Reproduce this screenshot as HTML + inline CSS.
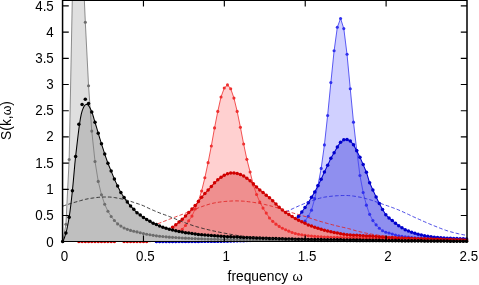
<!DOCTYPE html>
<html><head><meta charset="utf-8"><style>
html,body{margin:0;padding:0;background:#fff;}
body{width:479px;height:285px;overflow:hidden;}
svg{display:block;will-change:transform;}
text{font-family:"Liberation Sans",sans-serif;font-size:13.8px;fill:#000;}
.t text{font-size:13.8px;}
</style></head><body>
<svg width="479" height="285" viewBox="0 0 479 285">
<defs><clipPath id="c"><rect x="62.57" y="0.3" width="404.43" height="241.29999999999998"/></clipPath></defs>
<rect width="479" height="285" fill="#fff"/>
<path clip-path="url(#c)" d="M156.40,241.60 L159.63,241.60 L162.86,241.60 L166.09,241.59 L169.32,241.59 L172.55,241.58 L175.79,241.58 L179.02,241.57 L182.25,241.56 L185.48,241.55 L188.71,241.54 L191.94,241.53 L195.17,241.51 L198.40,241.50 L201.63,241.48 L204.86,241.46 L208.10,241.45 L211.33,241.43 L214.56,241.41 L217.79,241.38 L221.02,241.36 L224.25,241.34 L227.48,241.31 L230.71,241.26 L233.94,241.19 L237.17,241.11 L240.41,241.00 L243.64,240.89 L246.87,240.75 L250.10,240.59 L253.33,240.42 L256.56,240.23 L259.79,240.02 L263.02,239.79 L266.25,239.54 L269.48,239.27 L272.72,238.98 L275.95,238.55 L279.18,237.89 L282.41,237.01 L285.64,235.97 L288.87,234.79 L292.10,233.21 L295.33,231.06 L298.56,228.50 L301.79,225.22 L305.03,221.16 L308.26,216.29 L311.49,210.16 L314.72,198.63 L317.95,185.53 L321.18,168.40 L324.41,144.92 L327.64,115.47 L330.87,82.62 L334.10,50.81 L337.33,27.28 L340.57,18.48 L343.80,28.59 L347.03,54.32 L350.26,88.70 L353.49,122.13 L356.72,150.21 L359.95,175.47 L363.18,192.50 L366.41,205.13 L369.65,214.36 L372.88,220.58 L376.11,224.83 L379.34,228.25 L382.57,230.82 L385.80,232.27 L389.03,233.06 L392.26,234.00 L395.49,235.00 L398.72,235.81 L401.96,236.34 L405.19,236.75 L408.42,237.16 L411.65,237.50 L414.88,237.80 L418.11,238.06 L421.34,238.29 L424.57,238.48 L427.80,238.65 L431.03,238.79 L434.27,238.93 L437.50,239.06 L440.73,239.18 L443.96,239.30 L447.19,239.42 L450.42,239.53 L453.65,239.64 L456.88,239.75 L460.11,239.85 L463.34,239.94 L466.57,240.03 L466.57,241.60 L156.40,241.60 Z" fill="#d0d0ff" stroke="none"/>
<path clip-path="url(#c)" d="M156.40,241.60 L159.63,241.60 L162.86,241.60 L166.09,241.59 L169.32,241.58 L172.55,241.57 L175.79,241.56 L179.02,241.55 L182.25,241.53 L185.48,241.51 L188.71,241.49 L191.94,241.46 L195.17,241.44 L198.40,241.41 L201.63,241.37 L204.86,241.34 L208.10,241.30 L211.33,241.26 L214.56,241.22 L217.79,241.17 L221.02,241.13 L224.25,241.08 L227.48,240.98 L230.71,240.81 L233.94,240.57 L237.17,240.26 L240.41,239.89 L243.64,239.48 L246.87,239.01 L250.10,238.51 L253.33,237.97 L256.56,237.41 L259.79,236.70 L263.02,235.75 L266.25,234.64 L269.48,233.43 L272.72,232.17 L275.95,230.84 L279.18,229.38 L282.41,227.79 L285.64,226.10 L288.87,224.31 L292.10,222.45 L295.33,220.12 L298.56,216.29 L301.79,211.99 L305.03,207.44 L308.26,202.72 L311.49,197.32 L314.72,191.92 L317.95,185.79 L321.18,179.24 L324.41,171.91 L327.64,165.36 L330.87,158.28 L334.10,152.73 L337.33,146.91 L340.57,142.30 L343.80,139.84 L347.03,139.42 L350.26,141.10 L353.49,144.66 L356.72,150.69 L359.95,157.29 L363.18,164.62 L366.41,172.17 L369.65,182.82 L372.88,190.02 L376.11,196.91 L379.34,203.56 L382.57,209.41 L385.80,214.72 L389.03,218.02 L392.26,220.48 L395.49,223.36 L398.72,225.78 L401.96,227.87 L405.19,229.65 L408.42,231.02 L411.65,232.33 L414.88,233.37 L418.11,234.21 L421.34,234.95 L424.57,235.68 L427.80,236.31 L431.03,236.73 L434.27,237.15 L437.50,237.57 L440.73,237.81 L443.96,237.99 L447.19,238.15 L450.42,238.30 L453.65,238.45 L456.88,238.60 L460.11,238.74 L463.34,238.86 L466.57,238.98 L466.57,241.60 L156.40,241.60 Z" fill="#8f8fef" stroke="none"/>
<path clip-path="url(#c)" d="M156.40,241.60 L159.63,241.60 L162.86,241.60 L166.09,241.59 L169.32,241.59 L172.55,241.58 L175.79,241.58 L179.02,241.57 L182.25,241.56 L185.48,241.55 L188.71,241.54 L191.94,241.53 L195.17,241.51 L198.40,241.50 L201.63,241.48 L204.86,241.46 L208.10,241.45 L211.33,241.43 L214.56,241.41 L217.79,241.38 L221.02,241.36 L224.25,241.34 L227.48,241.31 L230.71,241.26 L233.94,241.19 L237.17,241.11 L240.41,241.00 L243.64,240.89 L246.87,240.75 L250.10,240.59 L253.33,240.42 L256.56,240.23 L259.79,240.02 L263.02,239.79 L266.25,239.54 L269.48,239.27 L272.72,238.98 L275.95,238.55 L279.18,237.89 L282.41,237.01 L285.64,235.97 L288.87,234.79 L292.10,233.21 L295.33,231.06 L298.56,228.50 L301.79,225.22 L305.03,221.16 L308.26,216.29 L311.49,210.16 L314.72,198.63 L317.95,185.53 L321.18,168.40 L324.41,144.92 L327.64,115.47 L330.87,82.62 L334.10,50.81 L337.33,27.28 L340.57,18.48 L343.80,28.59 L347.03,54.32 L350.26,88.70 L353.49,122.13 L356.72,150.21 L359.95,175.47 L363.18,192.50 L366.41,205.13 L369.65,214.36 L372.88,220.58 L376.11,224.83 L379.34,228.25 L382.57,230.82 L385.80,232.27 L389.03,233.06 L392.26,234.00 L395.49,235.00 L398.72,235.81 L401.96,236.34 L405.19,236.75 L408.42,237.16 L411.65,237.50 L414.88,237.80 L418.11,238.06 L421.34,238.29 L424.57,238.48 L427.80,238.65 L431.03,238.79 L434.27,238.93 L437.50,239.06 L440.73,239.18 L443.96,239.30 L447.19,239.42 L450.42,239.53 L453.65,239.64 L456.88,239.75 L460.11,239.85 L463.34,239.94 L466.57,240.03" fill="none" stroke="#4848f0" stroke-width="0.9" stroke-linejoin="round"/>
<g fill="#3030ee"><circle cx="156.40" cy="241.60" r="1.55"/><circle cx="159.63" cy="241.60" r="1.55"/><circle cx="162.86" cy="241.60" r="1.55"/><circle cx="166.09" cy="241.59" r="1.55"/><circle cx="169.32" cy="241.59" r="1.55"/><circle cx="172.55" cy="241.58" r="1.55"/><circle cx="175.79" cy="241.58" r="1.55"/><circle cx="179.02" cy="241.57" r="1.55"/><circle cx="182.25" cy="241.56" r="1.55"/><circle cx="185.48" cy="241.55" r="1.55"/><circle cx="188.71" cy="241.54" r="1.55"/><circle cx="191.94" cy="241.53" r="1.55"/><circle cx="195.17" cy="241.51" r="1.55"/><circle cx="198.40" cy="241.50" r="1.55"/><circle cx="201.63" cy="241.48" r="1.55"/><circle cx="204.86" cy="241.46" r="1.55"/><circle cx="208.10" cy="241.45" r="1.55"/><circle cx="211.33" cy="241.43" r="1.55"/><circle cx="214.56" cy="241.41" r="1.55"/><circle cx="217.79" cy="241.38" r="1.55"/><circle cx="221.02" cy="241.36" r="1.55"/><circle cx="224.25" cy="241.34" r="1.55"/><circle cx="227.48" cy="241.31" r="1.55"/><circle cx="230.71" cy="241.26" r="1.55"/><circle cx="233.94" cy="241.19" r="1.55"/><circle cx="237.17" cy="241.11" r="1.55"/><circle cx="240.41" cy="241.00" r="1.55"/><circle cx="243.64" cy="240.89" r="1.55"/><circle cx="246.87" cy="240.75" r="1.55"/><circle cx="250.10" cy="240.59" r="1.55"/><circle cx="253.33" cy="240.42" r="1.55"/><circle cx="256.56" cy="240.23" r="1.55"/><circle cx="259.79" cy="240.02" r="1.55"/><circle cx="263.02" cy="239.79" r="1.55"/><circle cx="266.25" cy="239.54" r="1.55"/><circle cx="269.48" cy="239.27" r="1.55"/><circle cx="272.72" cy="238.98" r="1.55"/><circle cx="275.95" cy="238.55" r="1.55"/><circle cx="279.18" cy="237.89" r="1.55"/><circle cx="282.41" cy="237.01" r="1.55"/><circle cx="285.64" cy="235.97" r="1.55"/><circle cx="288.87" cy="234.79" r="1.55"/><circle cx="292.10" cy="233.21" r="1.55"/><circle cx="295.33" cy="231.06" r="1.55"/><circle cx="298.56" cy="228.50" r="1.55"/><circle cx="301.79" cy="225.22" r="1.55"/><circle cx="305.03" cy="221.16" r="1.55"/><circle cx="308.26" cy="216.29" r="1.55"/><circle cx="311.49" cy="210.16" r="1.55"/><circle cx="314.72" cy="198.63" r="1.55"/><circle cx="317.95" cy="185.53" r="1.55"/><circle cx="321.18" cy="168.40" r="1.55"/><circle cx="324.41" cy="144.92" r="1.55"/><circle cx="327.64" cy="115.47" r="1.55"/><circle cx="330.87" cy="82.62" r="1.55"/><circle cx="334.10" cy="50.81" r="1.55"/><circle cx="337.33" cy="27.28" r="1.55"/><circle cx="340.57" cy="18.48" r="1.55"/><circle cx="343.80" cy="28.59" r="1.55"/><circle cx="347.03" cy="54.32" r="1.55"/><circle cx="350.26" cy="88.70" r="1.55"/><circle cx="353.49" cy="122.13" r="1.55"/><circle cx="356.72" cy="150.21" r="1.55"/><circle cx="359.95" cy="175.47" r="1.55"/><circle cx="363.18" cy="192.50" r="1.55"/><circle cx="366.41" cy="205.13" r="1.55"/><circle cx="369.65" cy="214.36" r="1.55"/><circle cx="372.88" cy="220.58" r="1.55"/><circle cx="376.11" cy="224.83" r="1.55"/><circle cx="379.34" cy="228.25" r="1.55"/><circle cx="382.57" cy="230.82" r="1.55"/><circle cx="385.80" cy="232.27" r="1.55"/><circle cx="389.03" cy="233.06" r="1.55"/><circle cx="392.26" cy="234.00" r="1.55"/><circle cx="395.49" cy="235.00" r="1.55"/><circle cx="398.72" cy="235.81" r="1.55"/><circle cx="401.96" cy="236.34" r="1.55"/><circle cx="405.19" cy="236.75" r="1.55"/><circle cx="408.42" cy="237.16" r="1.55"/><circle cx="411.65" cy="237.50" r="1.55"/><circle cx="414.88" cy="237.80" r="1.55"/><circle cx="418.11" cy="238.06" r="1.55"/><circle cx="421.34" cy="238.29" r="1.55"/><circle cx="424.57" cy="238.48" r="1.55"/><circle cx="427.80" cy="238.65" r="1.55"/><circle cx="431.03" cy="238.79" r="1.55"/><circle cx="434.27" cy="238.93" r="1.55"/><circle cx="437.50" cy="239.06" r="1.55"/><circle cx="440.73" cy="239.18" r="1.55"/><circle cx="443.96" cy="239.30" r="1.55"/><circle cx="447.19" cy="239.42" r="1.55"/><circle cx="450.42" cy="239.53" r="1.55"/><circle cx="453.65" cy="239.64" r="1.55"/><circle cx="456.88" cy="239.75" r="1.55"/><circle cx="460.11" cy="239.85" r="1.55"/><circle cx="463.34" cy="239.94" r="1.55"/><circle cx="466.57" cy="240.03" r="1.55"/></g>
<path clip-path="url(#c)" d="M156.40,241.60 L159.63,241.60 L162.86,241.60 L166.09,241.59 L169.32,241.58 L172.55,241.57 L175.79,241.56 L179.02,241.55 L182.25,241.53 L185.48,241.51 L188.71,241.49 L191.94,241.46 L195.17,241.44 L198.40,241.41 L201.63,241.37 L204.86,241.34 L208.10,241.30 L211.33,241.26 L214.56,241.22 L217.79,241.17 L221.02,241.13 L224.25,241.08 L227.48,240.98 L230.71,240.81 L233.94,240.57 L237.17,240.26 L240.41,239.89 L243.64,239.48 L246.87,239.01 L250.10,238.51 L253.33,237.97 L256.56,237.41 L259.79,236.70 L263.02,235.75 L266.25,234.64 L269.48,233.43 L272.72,232.17 L275.95,230.84 L279.18,229.38 L282.41,227.79 L285.64,226.10 L288.87,224.31 L292.10,222.45 L295.33,220.12 L298.56,216.29 L301.79,211.99 L305.03,207.44 L308.26,202.72 L311.49,197.32 L314.72,191.92 L317.95,185.79 L321.18,179.24 L324.41,171.91 L327.64,165.36 L330.87,158.28 L334.10,152.73 L337.33,146.91 L340.57,142.30 L343.80,139.84 L347.03,139.42 L350.26,141.10 L353.49,144.66 L356.72,150.69 L359.95,157.29 L363.18,164.62 L366.41,172.17 L369.65,182.82 L372.88,190.02 L376.11,196.91 L379.34,203.56 L382.57,209.41 L385.80,214.72 L389.03,218.02 L392.26,220.48 L395.49,223.36 L398.72,225.78 L401.96,227.87 L405.19,229.65 L408.42,231.02 L411.65,232.33 L414.88,233.37 L418.11,234.21 L421.34,234.95 L424.57,235.68 L427.80,236.31 L431.03,236.73 L434.27,237.15 L437.50,237.57 L440.73,237.81 L443.96,237.99 L447.19,238.15 L450.42,238.30 L453.65,238.45 L456.88,238.60 L460.11,238.74 L463.34,238.86 L466.57,238.98" fill="none" stroke="#0000cc" stroke-width="1.05" stroke-linejoin="round"/>
<g fill="#0000cc"><circle cx="156.40" cy="241.60" r="1.75"/><circle cx="159.63" cy="241.60" r="1.75"/><circle cx="162.86" cy="241.60" r="1.75"/><circle cx="166.09" cy="241.59" r="1.75"/><circle cx="169.32" cy="241.58" r="1.75"/><circle cx="172.55" cy="241.57" r="1.75"/><circle cx="175.79" cy="241.56" r="1.75"/><circle cx="179.02" cy="241.55" r="1.75"/><circle cx="182.25" cy="241.53" r="1.75"/><circle cx="185.48" cy="241.51" r="1.75"/><circle cx="188.71" cy="241.49" r="1.75"/><circle cx="191.94" cy="241.46" r="1.75"/><circle cx="195.17" cy="241.44" r="1.75"/><circle cx="198.40" cy="241.41" r="1.75"/><circle cx="201.63" cy="241.37" r="1.75"/><circle cx="204.86" cy="241.34" r="1.75"/><circle cx="208.10" cy="241.30" r="1.75"/><circle cx="211.33" cy="241.26" r="1.75"/><circle cx="214.56" cy="241.22" r="1.75"/><circle cx="217.79" cy="241.17" r="1.75"/><circle cx="221.02" cy="241.13" r="1.75"/><circle cx="224.25" cy="241.08" r="1.75"/><circle cx="227.48" cy="240.98" r="1.75"/><circle cx="230.71" cy="240.81" r="1.75"/><circle cx="233.94" cy="240.57" r="1.75"/><circle cx="237.17" cy="240.26" r="1.75"/><circle cx="240.41" cy="239.89" r="1.75"/><circle cx="243.64" cy="239.48" r="1.75"/><circle cx="246.87" cy="239.01" r="1.75"/><circle cx="250.10" cy="238.51" r="1.75"/><circle cx="253.33" cy="237.97" r="1.75"/><circle cx="256.56" cy="237.41" r="1.75"/><circle cx="259.79" cy="236.70" r="1.75"/><circle cx="263.02" cy="235.75" r="1.75"/><circle cx="266.25" cy="234.64" r="1.75"/><circle cx="269.48" cy="233.43" r="1.75"/><circle cx="272.72" cy="232.17" r="1.75"/><circle cx="275.95" cy="230.84" r="1.75"/><circle cx="279.18" cy="229.38" r="1.75"/><circle cx="282.41" cy="227.79" r="1.75"/><circle cx="285.64" cy="226.10" r="1.75"/><circle cx="288.87" cy="224.31" r="1.75"/><circle cx="292.10" cy="222.45" r="1.75"/><circle cx="295.33" cy="220.12" r="1.75"/><circle cx="298.56" cy="216.29" r="1.75"/><circle cx="301.79" cy="211.99" r="1.75"/><circle cx="305.03" cy="207.44" r="1.75"/><circle cx="308.26" cy="202.72" r="1.75"/><circle cx="311.49" cy="197.32" r="1.75"/><circle cx="314.72" cy="191.92" r="1.75"/><circle cx="317.95" cy="185.79" r="1.75"/><circle cx="321.18" cy="179.24" r="1.75"/><circle cx="324.41" cy="171.91" r="1.75"/><circle cx="327.64" cy="165.36" r="1.75"/><circle cx="330.87" cy="158.28" r="1.75"/><circle cx="334.10" cy="152.73" r="1.75"/><circle cx="337.33" cy="146.91" r="1.75"/><circle cx="340.57" cy="142.30" r="1.75"/><circle cx="343.80" cy="139.84" r="1.75"/><circle cx="347.03" cy="139.42" r="1.75"/><circle cx="350.26" cy="141.10" r="1.75"/><circle cx="353.49" cy="144.66" r="1.75"/><circle cx="356.72" cy="150.69" r="1.75"/><circle cx="359.95" cy="157.29" r="1.75"/><circle cx="363.18" cy="164.62" r="1.75"/><circle cx="366.41" cy="172.17" r="1.75"/><circle cx="369.65" cy="182.82" r="1.75"/><circle cx="372.88" cy="190.02" r="1.75"/><circle cx="376.11" cy="196.91" r="1.75"/><circle cx="379.34" cy="203.56" r="1.75"/><circle cx="382.57" cy="209.41" r="1.75"/><circle cx="385.80" cy="214.72" r="1.75"/><circle cx="389.03" cy="218.02" r="1.75"/><circle cx="392.26" cy="220.48" r="1.75"/><circle cx="395.49" cy="223.36" r="1.75"/><circle cx="398.72" cy="225.78" r="1.75"/><circle cx="401.96" cy="227.87" r="1.75"/><circle cx="405.19" cy="229.65" r="1.75"/><circle cx="408.42" cy="231.02" r="1.75"/><circle cx="411.65" cy="232.33" r="1.75"/><circle cx="414.88" cy="233.37" r="1.75"/><circle cx="418.11" cy="234.21" r="1.75"/><circle cx="421.34" cy="234.95" r="1.75"/><circle cx="424.57" cy="235.68" r="1.75"/><circle cx="427.80" cy="236.31" r="1.75"/><circle cx="431.03" cy="236.73" r="1.75"/><circle cx="434.27" cy="237.15" r="1.75"/><circle cx="437.50" cy="237.57" r="1.75"/><circle cx="440.73" cy="237.81" r="1.75"/><circle cx="443.96" cy="237.99" r="1.75"/><circle cx="447.19" cy="238.15" r="1.75"/><circle cx="450.42" cy="238.30" r="1.75"/><circle cx="453.65" cy="238.45" r="1.75"/><circle cx="456.88" cy="238.60" r="1.75"/><circle cx="460.11" cy="238.74" r="1.75"/><circle cx="463.34" cy="238.86" r="1.75"/><circle cx="466.57" cy="238.98" r="1.75"/></g>
<path clip-path="url(#c)" d="M191.94,240.03 L193.56,239.90 L195.17,239.76 L196.79,239.61 L198.40,239.44 L200.02,239.25 L201.63,239.06 L203.25,238.85 L204.86,238.63 L206.48,238.40 L208.10,238.16 L209.71,237.91 L211.33,237.65 L212.94,237.38 L214.56,237.11 L216.17,236.82 L217.79,236.53 L219.40,236.23 L221.02,235.93 L222.63,235.62 L224.25,235.31 L225.87,234.99 L227.48,234.64 L229.10,234.28 L230.71,233.90 L232.33,233.50 L233.94,233.09 L235.56,232.66 L237.17,232.21 L238.79,231.75 L240.41,231.28 L242.02,230.79 L243.64,230.29 L245.25,229.77 L246.87,229.25 L248.48,228.71 L250.10,228.16 L251.71,227.60 L253.33,227.04 L254.94,226.46 L256.56,225.88 L258.18,225.27 L259.79,224.62 L261.41,223.94 L263.02,223.23 L264.64,222.48 L266.25,221.71 L267.87,220.92 L269.48,220.12 L271.10,219.29 L272.72,218.46 L274.33,217.63 L275.95,216.79 L277.56,215.95 L279.18,215.12 L280.79,214.29 L282.41,213.48 L284.02,212.68 L285.64,211.91 L287.25,211.16 L288.87,210.43 L290.49,209.69 L292.10,208.96 L293.72,208.22 L295.33,207.49 L296.95,206.76 L298.56,206.04 L300.18,205.33 L301.79,204.64 L303.41,203.97 L305.03,203.32 L306.64,202.69 L308.26,202.09 L309.87,201.51 L311.49,200.95 L313.10,200.39 L314.72,199.83 L316.33,199.28 L317.95,198.76 L319.56,198.28 L321.18,197.84 L322.80,197.47 L324.41,197.16 L326.03,196.92 L327.64,196.70 L329.26,196.49 L330.87,196.29 L332.49,196.12 L334.10,195.96 L335.72,195.83 L337.34,195.72 L338.95,195.63 L340.57,195.58 L342.18,195.53 L343.80,195.50 L345.41,195.49 L347.03,195.52 L348.64,195.59 L350.26,195.70 L351.87,195.87 L353.49,196.08 L355.11,196.33 L356.72,196.60 L358.34,196.89 L359.95,197.18 L361.57,197.51 L363.18,197.88 L364.80,198.28 L366.41,198.71 L368.03,199.16 L369.65,199.64 L371.26,200.16 L372.88,200.71 L374.49,201.29 L376.11,201.87 L377.72,202.44 L379.34,203.01 L380.95,203.56 L382.57,204.12 L384.18,204.67 L385.80,205.23 L387.42,205.79 L389.03,206.35 L390.65,206.93 L392.26,207.52 L393.88,208.12 L395.49,208.74 L397.11,209.37 L398.72,210.03 L400.34,210.72 L401.96,211.43 L403.57,212.16 L405.19,212.91 L406.80,213.66 L408.42,214.42 L410.03,215.19 L411.65,215.95 L413.26,216.71 L414.88,217.45 L416.49,218.18 L418.11,218.90 L419.73,219.62 L421.34,220.34 L422.96,221.06 L424.57,221.78 L426.19,222.49 L427.80,223.19 L429.42,223.88 L431.03,224.57 L432.65,225.23 L434.27,225.89 L435.88,226.52 L437.50,227.16 L439.11,227.80 L440.73,228.43 L442.34,229.05 L443.96,229.65 L445.57,230.23 L447.19,230.77 L448.80,231.27 L450.42,231.73 L452.04,232.17 L453.65,232.60 L455.27,233.01 L456.88,233.40 L458.50,233.78 L460.11,234.13 L461.73,234.46 L463.34,234.77 L464.96,235.06 L466.58,235.31" fill="none" stroke="#2a2ae0" stroke-width="0.85" stroke-dasharray="3.7,2.1"/>
<path clip-path="url(#c)" d="M78.86,241.60 L82.09,241.60 L85.32,241.60 L88.55,241.60 L91.78,241.59 L95.01,241.59 L98.24,241.58 L101.47,241.58 L104.70,241.57 L107.93,241.56 L111.17,241.55 L114.40,241.54 L117.63,241.53 L120.86,241.52 L124.09,241.51 L127.32,241.50 L130.55,241.47 L133.78,241.41 L137.01,241.33 L140.24,241.22 L143.48,241.09 L146.71,240.93 L149.94,240.75 L153.17,240.55 L156.40,240.21 L159.63,239.65 L162.86,238.98 L166.09,238.16 L169.32,237.12 L172.55,235.84 L175.79,234.00 L179.02,231.91 L182.25,229.18 L185.48,225.57 L188.71,220.85 L191.94,216.08 L195.17,209.01 L198.40,200.99 L201.63,190.93 L204.86,177.78 L208.10,162.63 L211.33,145.97 L214.56,127.89 L217.79,111.39 L221.02,96.98 L224.25,88.07 L227.48,84.92 L230.71,88.70 L233.94,98.08 L237.17,111.39 L240.41,127.37 L243.64,144.03 L246.87,159.33 L250.10,171.96 L253.33,185.01 L256.56,194.44 L259.79,202.04 L263.02,208.12 L266.25,213.09 L269.48,218.02 L272.72,221.37 L275.95,224.15 L279.18,226.40 L282.41,228.19 L285.64,229.81 L288.87,231.17 L292.10,232.43 L295.33,233.48 L298.56,234.32 L301.79,234.84 L305.03,235.36 L308.26,235.78 L311.49,236.10 L314.72,236.41 L317.95,236.62 L321.18,236.78 L324.41,236.93 L327.64,237.06 L330.87,237.18 L334.10,237.30 L337.33,237.41 L340.57,237.51 L343.80,237.60 L347.03,237.69 L350.26,237.77 L353.49,237.85 L356.72,237.94 L359.95,238.04 L363.18,238.15 L366.41,238.27 L369.65,238.40 L372.88,238.53 L376.11,238.66 L379.34,238.78 L382.57,238.89 L385.80,238.98 L389.03,239.06 L392.26,239.13 L395.49,239.20 L398.72,239.27 L401.96,239.33 L405.19,239.39 L408.42,239.44 L411.65,239.50 L414.88,239.55 L418.11,239.61 L421.34,239.66 L424.57,239.72 L427.80,239.77 L431.03,239.83 L434.27,239.88 L437.50,239.93 L440.73,239.98 L443.96,240.03 L447.19,240.08 L450.42,240.12 L453.65,240.17 L456.88,240.21 L460.11,240.26 L463.34,240.30 L466.57,240.34 L466.57,241.60 L78.86,241.60 Z" fill="#ffd0d0" stroke="none"/>
<path clip-path="url(#c)" d="M172.55,227.19 L175.79,224.83 L179.02,222.11 L182.25,219.28 L185.48,216.08 L188.71,212.62 L191.94,209.01 L195.17,205.50 L198.40,201.57 L201.63,197.22 L204.86,193.39 L208.10,190.09 L211.33,186.42 L214.56,182.81 L217.79,179.82 L221.02,177.31 L224.25,175.21 L227.48,173.69 L230.71,173.01 L233.94,173.01 L237.17,173.48 L240.41,174.53 L243.64,176.00 L246.87,178.30 L250.10,180.82 L253.33,183.80 L256.56,186.89 L259.79,189.88 L263.02,192.40 L266.25,195.23 L269.48,197.69 L272.72,200.73 L275.95,204.00 L279.18,207.28 L282.41,210.00 L285.64,212.41 L288.87,214.61 L292.10,216.61 L295.33,218.49 L298.56,220.22 L301.79,221.85 L305.03,223.36 L308.26,224.88 L311.49,226.09 L314.72,227.24 L317.95,228.24 L321.18,229.29 L324.41,230.28 L327.64,230.96 L330.87,231.80 L334.10,232.48 L337.33,233.11 L340.57,233.64 L343.80,234.32 L347.03,234.79 L350.26,235.01 L353.49,235.16 L356.72,235.29 L359.95,235.45 L363.18,235.66 L366.41,235.88 L369.65,236.10 L372.88,236.33 L376.11,236.57 L379.34,236.81 L382.57,237.04 L385.80,237.25 L389.03,237.44 L392.26,237.62 L395.49,237.78 L398.72,237.93 L401.96,238.07 L405.19,238.19 L408.42,238.31 L411.65,238.43 L414.88,238.54 L418.11,238.64 L421.34,238.74 L424.57,238.84 L427.80,238.94 L431.03,239.04 L434.27,239.14 L437.50,239.23 L440.73,239.33 L443.96,239.42 L447.19,239.52 L450.42,239.61 L453.65,239.69 L456.88,239.78 L460.11,239.87 L463.34,239.95 L466.57,240.03 L466.57,241.60 L172.55,241.60 Z" fill="#ef8f8f" stroke="none"/>
<path clip-path="url(#c)" d="M78.86,241.60 L82.09,241.60 L85.32,241.60 L88.55,241.60 L91.78,241.59 L95.01,241.59 L98.24,241.58 L101.47,241.58 L104.70,241.57 L107.93,241.56 L111.17,241.55 L114.40,241.54 L117.63,241.53 L120.86,241.52 L124.09,241.51 L127.32,241.50 L130.55,241.47 L133.78,241.41 L137.01,241.33 L140.24,241.22 L143.48,241.09 L146.71,240.93 L149.94,240.75 L153.17,240.55 L156.40,240.21 L159.63,239.65 L162.86,238.98 L166.09,238.16 L169.32,237.12 L172.55,235.84 L175.79,234.00 L179.02,231.91 L182.25,229.18 L185.48,225.57 L188.71,220.85 L191.94,216.08 L195.17,209.01 L198.40,200.99 L201.63,190.93 L204.86,177.78 L208.10,162.63 L211.33,145.97 L214.56,127.89 L217.79,111.39 L221.02,96.98 L224.25,88.07 L227.48,84.92 L230.71,88.70 L233.94,98.08 L237.17,111.39 L240.41,127.37 L243.64,144.03 L246.87,159.33 L250.10,171.96 L253.33,185.01 L256.56,194.44 L259.79,202.04 L263.02,208.12 L266.25,213.09 L269.48,218.02 L272.72,221.37 L275.95,224.15 L279.18,226.40 L282.41,228.19 L285.64,229.81 L288.87,231.17 L292.10,232.43 L295.33,233.48 L298.56,234.32 L301.79,234.84 L305.03,235.36 L308.26,235.78 L311.49,236.10 L314.72,236.41 L317.95,236.62 L321.18,236.78 L324.41,236.93 L327.64,237.06 L330.87,237.18 L334.10,237.30 L337.33,237.41 L340.57,237.51 L343.80,237.60 L347.03,237.69 L350.26,237.77 L353.49,237.85 L356.72,237.94 L359.95,238.04 L363.18,238.15 L366.41,238.27 L369.65,238.40 L372.88,238.53 L376.11,238.66 L379.34,238.78 L382.57,238.89 L385.80,238.98 L389.03,239.06 L392.26,239.13 L395.49,239.20 L398.72,239.27 L401.96,239.33 L405.19,239.39 L408.42,239.44 L411.65,239.50 L414.88,239.55 L418.11,239.61 L421.34,239.66 L424.57,239.72 L427.80,239.77 L431.03,239.83 L434.27,239.88 L437.50,239.93 L440.73,239.98 L443.96,240.03 L447.19,240.08 L450.42,240.12 L453.65,240.17 L456.88,240.21 L460.11,240.26 L463.34,240.30 L466.57,240.34" fill="none" stroke="#f04040" stroke-width="0.9" stroke-linejoin="round"/>
<g fill="#ee3030"><circle cx="149.94" cy="240.75" r="1.55"/><circle cx="153.17" cy="240.55" r="1.55"/><circle cx="156.40" cy="240.21" r="1.55"/><circle cx="159.63" cy="239.65" r="1.55"/><circle cx="162.86" cy="238.98" r="1.55"/><circle cx="166.09" cy="238.16" r="1.55"/><circle cx="169.32" cy="237.12" r="1.55"/><circle cx="172.55" cy="235.84" r="1.55"/><circle cx="175.79" cy="234.00" r="1.55"/><circle cx="179.02" cy="231.91" r="1.55"/><circle cx="182.25" cy="229.18" r="1.55"/><circle cx="185.48" cy="225.57" r="1.55"/><circle cx="188.71" cy="220.85" r="1.55"/><circle cx="191.94" cy="216.08" r="1.55"/><circle cx="195.17" cy="209.01" r="1.55"/><circle cx="198.40" cy="200.99" r="1.55"/><circle cx="201.63" cy="190.93" r="1.55"/><circle cx="204.86" cy="177.78" r="1.55"/><circle cx="208.10" cy="162.63" r="1.55"/><circle cx="211.33" cy="145.97" r="1.55"/><circle cx="214.56" cy="127.89" r="1.55"/><circle cx="217.79" cy="111.39" r="1.55"/><circle cx="221.02" cy="96.98" r="1.55"/><circle cx="224.25" cy="88.07" r="1.55"/><circle cx="227.48" cy="84.92" r="1.55"/><circle cx="230.71" cy="88.70" r="1.55"/><circle cx="233.94" cy="98.08" r="1.55"/><circle cx="237.17" cy="111.39" r="1.55"/><circle cx="240.41" cy="127.37" r="1.55"/><circle cx="243.64" cy="144.03" r="1.55"/><circle cx="246.87" cy="159.33" r="1.55"/><circle cx="250.10" cy="171.96" r="1.55"/><circle cx="253.33" cy="185.01" r="1.55"/><circle cx="256.56" cy="194.44" r="1.55"/><circle cx="259.79" cy="202.04" r="1.55"/><circle cx="263.02" cy="208.12" r="1.55"/><circle cx="266.25" cy="213.09" r="1.55"/><circle cx="269.48" cy="218.02" r="1.55"/><circle cx="272.72" cy="221.37" r="1.55"/><circle cx="275.95" cy="224.15" r="1.55"/><circle cx="279.18" cy="226.40" r="1.55"/><circle cx="282.41" cy="228.19" r="1.55"/><circle cx="285.64" cy="229.81" r="1.55"/><circle cx="288.87" cy="231.17" r="1.55"/><circle cx="292.10" cy="232.43" r="1.55"/><circle cx="295.33" cy="233.48" r="1.55"/><circle cx="298.56" cy="234.32" r="1.55"/><circle cx="301.79" cy="234.84" r="1.55"/><circle cx="305.03" cy="235.36" r="1.55"/><circle cx="308.26" cy="235.78" r="1.55"/><circle cx="311.49" cy="236.10" r="1.55"/><circle cx="314.72" cy="236.41" r="1.55"/><circle cx="317.95" cy="236.62" r="1.55"/><circle cx="321.18" cy="236.78" r="1.55"/><circle cx="324.41" cy="236.93" r="1.55"/><circle cx="327.64" cy="237.06" r="1.55"/><circle cx="330.87" cy="237.18" r="1.55"/><circle cx="334.10" cy="237.30" r="1.55"/><circle cx="337.33" cy="237.41" r="1.55"/><circle cx="340.57" cy="237.51" r="1.55"/><circle cx="343.80" cy="237.60" r="1.55"/><circle cx="347.03" cy="237.69" r="1.55"/><circle cx="350.26" cy="237.77" r="1.55"/><circle cx="353.49" cy="237.85" r="1.55"/><circle cx="356.72" cy="237.94" r="1.55"/><circle cx="359.95" cy="238.04" r="1.55"/><circle cx="363.18" cy="238.15" r="1.55"/><circle cx="366.41" cy="238.27" r="1.55"/><circle cx="369.65" cy="238.40" r="1.55"/><circle cx="372.88" cy="238.53" r="1.55"/><circle cx="376.11" cy="238.66" r="1.55"/><circle cx="379.34" cy="238.78" r="1.55"/><circle cx="382.57" cy="238.89" r="1.55"/><circle cx="385.80" cy="238.98" r="1.55"/><circle cx="389.03" cy="239.06" r="1.55"/><circle cx="392.26" cy="239.13" r="1.55"/><circle cx="395.49" cy="239.20" r="1.55"/><circle cx="398.72" cy="239.27" r="1.55"/><circle cx="401.96" cy="239.33" r="1.55"/><circle cx="405.19" cy="239.39" r="1.55"/><circle cx="408.42" cy="239.44" r="1.55"/><circle cx="411.65" cy="239.50" r="1.55"/><circle cx="414.88" cy="239.55" r="1.55"/><circle cx="418.11" cy="239.61" r="1.55"/><circle cx="421.34" cy="239.66" r="1.55"/><circle cx="424.57" cy="239.72" r="1.55"/><circle cx="427.80" cy="239.77" r="1.55"/><circle cx="431.03" cy="239.83" r="1.55"/><circle cx="434.27" cy="239.88" r="1.55"/><circle cx="437.50" cy="239.93" r="1.55"/><circle cx="440.73" cy="239.98" r="1.55"/><circle cx="443.96" cy="240.03" r="1.55"/><circle cx="447.19" cy="240.08" r="1.55"/><circle cx="450.42" cy="240.12" r="1.55"/><circle cx="453.65" cy="240.17" r="1.55"/><circle cx="456.88" cy="240.21" r="1.55"/><circle cx="460.11" cy="240.26" r="1.55"/><circle cx="463.34" cy="240.30" r="1.55"/><circle cx="466.57" cy="240.34" r="1.55"/></g>
<path clip-path="url(#c)" d="M172.55,227.19 L175.79,224.83 L179.02,222.11 L182.25,219.28 L185.48,216.08 L188.71,212.62 L191.94,209.01 L195.17,205.50 L198.40,201.57 L201.63,197.22 L204.86,193.39 L208.10,190.09 L211.33,186.42 L214.56,182.81 L217.79,179.82 L221.02,177.31 L224.25,175.21 L227.48,173.69 L230.71,173.01 L233.94,173.01 L237.17,173.48 L240.41,174.53 L243.64,176.00 L246.87,178.30 L250.10,180.82 L253.33,183.80 L256.56,186.89 L259.79,189.88 L263.02,192.40 L266.25,195.23 L269.48,197.69 L272.72,200.73 L275.95,204.00 L279.18,207.28 L282.41,210.00 L285.64,212.41 L288.87,214.61 L292.10,216.61 L295.33,218.49 L298.56,220.22 L301.79,221.85 L305.03,223.36 L308.26,224.88 L311.49,226.09 L314.72,227.24 L317.95,228.24 L321.18,229.29 L324.41,230.28 L327.64,230.96 L330.87,231.80 L334.10,232.48 L337.33,233.11 L340.57,233.64 L343.80,234.32 L347.03,234.79 L350.26,235.01 L353.49,235.16 L356.72,235.29 L359.95,235.45 L363.18,235.66 L366.41,235.88 L369.65,236.10 L372.88,236.33 L376.11,236.57 L379.34,236.81 L382.57,237.04 L385.80,237.25 L389.03,237.44 L392.26,237.62 L395.49,237.78 L398.72,237.93 L401.96,238.07 L405.19,238.19 L408.42,238.31 L411.65,238.43 L414.88,238.54 L418.11,238.64 L421.34,238.74 L424.57,238.84 L427.80,238.94 L431.03,239.04 L434.27,239.14 L437.50,239.23 L440.73,239.33 L443.96,239.42 L447.19,239.52 L450.42,239.61 L453.65,239.69 L456.88,239.78 L460.11,239.87 L463.34,239.95 L466.57,240.03" fill="none" stroke="#d00000" stroke-width="1.05" stroke-linejoin="round"/>
<g fill="#d00000"><circle cx="172.55" cy="227.19" r="1.75"/><circle cx="175.79" cy="224.83" r="1.75"/><circle cx="179.02" cy="222.11" r="1.75"/><circle cx="182.25" cy="219.28" r="1.75"/><circle cx="185.48" cy="216.08" r="1.75"/><circle cx="188.71" cy="212.62" r="1.75"/><circle cx="191.94" cy="209.01" r="1.75"/><circle cx="195.17" cy="205.50" r="1.75"/><circle cx="198.40" cy="201.57" r="1.75"/><circle cx="201.63" cy="197.22" r="1.75"/><circle cx="204.86" cy="193.39" r="1.75"/><circle cx="208.10" cy="190.09" r="1.75"/><circle cx="211.33" cy="186.42" r="1.75"/><circle cx="214.56" cy="182.81" r="1.75"/><circle cx="217.79" cy="179.82" r="1.75"/><circle cx="221.02" cy="177.31" r="1.75"/><circle cx="224.25" cy="175.21" r="1.75"/><circle cx="227.48" cy="173.69" r="1.75"/><circle cx="230.71" cy="173.01" r="1.75"/><circle cx="233.94" cy="173.01" r="1.75"/><circle cx="237.17" cy="173.48" r="1.75"/><circle cx="240.41" cy="174.53" r="1.75"/><circle cx="243.64" cy="176.00" r="1.75"/><circle cx="246.87" cy="178.30" r="1.75"/><circle cx="250.10" cy="180.82" r="1.75"/><circle cx="253.33" cy="183.80" r="1.75"/><circle cx="256.56" cy="186.89" r="1.75"/><circle cx="259.79" cy="189.88" r="1.75"/><circle cx="263.02" cy="192.40" r="1.75"/><circle cx="266.25" cy="195.23" r="1.75"/><circle cx="269.48" cy="197.69" r="1.75"/><circle cx="272.72" cy="200.73" r="1.75"/><circle cx="275.95" cy="204.00" r="1.75"/><circle cx="279.18" cy="207.28" r="1.75"/><circle cx="282.41" cy="210.00" r="1.75"/><circle cx="285.64" cy="212.41" r="1.75"/><circle cx="288.87" cy="214.61" r="1.75"/><circle cx="292.10" cy="216.61" r="1.75"/><circle cx="295.33" cy="218.49" r="1.75"/><circle cx="298.56" cy="220.22" r="1.75"/><circle cx="301.79" cy="221.85" r="1.75"/><circle cx="305.03" cy="223.36" r="1.75"/><circle cx="308.26" cy="224.88" r="1.75"/><circle cx="311.49" cy="226.09" r="1.75"/><circle cx="314.72" cy="227.24" r="1.75"/><circle cx="317.95" cy="228.24" r="1.75"/><circle cx="321.18" cy="229.29" r="1.75"/><circle cx="324.41" cy="230.28" r="1.75"/><circle cx="327.64" cy="230.96" r="1.75"/><circle cx="330.87" cy="231.80" r="1.75"/><circle cx="334.10" cy="232.48" r="1.75"/><circle cx="337.33" cy="233.11" r="1.75"/><circle cx="340.57" cy="233.64" r="1.75"/><circle cx="343.80" cy="234.32" r="1.75"/><circle cx="347.03" cy="234.79" r="1.75"/><circle cx="350.26" cy="235.01" r="1.75"/><circle cx="353.49" cy="235.16" r="1.75"/><circle cx="356.72" cy="235.29" r="1.75"/><circle cx="359.95" cy="235.45" r="1.75"/><circle cx="363.18" cy="235.66" r="1.75"/><circle cx="366.41" cy="235.88" r="1.75"/><circle cx="369.65" cy="236.10" r="1.75"/><circle cx="372.88" cy="236.33" r="1.75"/><circle cx="376.11" cy="236.57" r="1.75"/><circle cx="379.34" cy="236.81" r="1.75"/><circle cx="382.57" cy="237.04" r="1.75"/><circle cx="385.80" cy="237.25" r="1.75"/><circle cx="389.03" cy="237.44" r="1.75"/><circle cx="392.26" cy="237.62" r="1.75"/><circle cx="395.49" cy="237.78" r="1.75"/><circle cx="398.72" cy="237.93" r="1.75"/><circle cx="401.96" cy="238.07" r="1.75"/><circle cx="405.19" cy="238.19" r="1.75"/><circle cx="408.42" cy="238.31" r="1.75"/><circle cx="411.65" cy="238.43" r="1.75"/><circle cx="414.88" cy="238.54" r="1.75"/><circle cx="418.11" cy="238.64" r="1.75"/><circle cx="421.34" cy="238.74" r="1.75"/><circle cx="424.57" cy="238.84" r="1.75"/><circle cx="427.80" cy="238.94" r="1.75"/><circle cx="431.03" cy="239.04" r="1.75"/><circle cx="434.27" cy="239.14" r="1.75"/><circle cx="437.50" cy="239.23" r="1.75"/><circle cx="440.73" cy="239.33" r="1.75"/><circle cx="443.96" cy="239.42" r="1.75"/><circle cx="447.19" cy="239.52" r="1.75"/><circle cx="450.42" cy="239.61" r="1.75"/><circle cx="453.65" cy="239.69" r="1.75"/><circle cx="456.88" cy="239.78" r="1.75"/><circle cx="460.11" cy="239.87" r="1.75"/><circle cx="463.34" cy="239.95" r="1.75"/><circle cx="466.57" cy="240.03" r="1.75"/><circle cx="78.86" cy="241.6" r="1.75"/><circle cx="82.09" cy="241.6" r="1.75"/><circle cx="85.32" cy="241.6" r="1.75"/><circle cx="88.55" cy="241.6" r="1.75"/><circle cx="91.78" cy="241.6" r="1.75"/><circle cx="95.01" cy="241.6" r="1.75"/><circle cx="98.24" cy="241.6" r="1.75"/><circle cx="101.47" cy="241.6" r="1.75"/><circle cx="104.70" cy="241.6" r="1.75"/><circle cx="107.93" cy="241.6" r="1.75"/><circle cx="111.17" cy="241.6" r="1.75"/><circle cx="114.40" cy="241.6" r="1.75"/><circle cx="124.09" cy="241.6" r="1.75"/><circle cx="127.32" cy="241.6" r="1.75"/><circle cx="130.55" cy="241.6" r="1.75"/><circle cx="133.78" cy="241.6" r="1.75"/><circle cx="137.01" cy="241.6" r="1.75"/><circle cx="140.24" cy="241.6" r="1.75"/><circle cx="143.48" cy="241.6" r="1.75"/><circle cx="146.71" cy="241.6" r="1.75"/></g>
<path clip-path="url(#c)" d="M78.86,241.08 L80.47,241.02 L82.09,240.94 L83.70,240.85 L85.32,240.74 L86.93,240.61 L88.55,240.47 L90.16,240.31 L91.78,240.14 L93.39,239.96 L95.01,239.77 L96.63,239.57 L98.24,239.35 L99.86,239.13 L101.47,238.90 L103.09,238.67 L104.70,238.42 L106.32,238.18 L107.93,237.92 L109.55,237.67 L111.16,237.41 L112.78,237.13 L114.40,236.82 L116.01,236.48 L117.63,236.11 L119.24,235.72 L120.86,235.31 L122.47,234.88 L124.09,234.43 L125.70,233.97 L127.32,233.51 L128.94,233.03 L130.55,232.55 L132.17,232.07 L133.78,231.59 L135.40,231.12 L137.01,230.64 L138.63,230.16 L140.24,229.66 L141.86,229.15 L143.47,228.63 L145.09,228.11 L146.71,227.57 L148.32,227.03 L149.94,226.48 L151.55,225.93 L153.17,225.36 L154.78,224.80 L156.40,224.22 L158.01,223.64 L159.63,223.05 L161.25,222.44 L162.86,221.81 L164.48,221.18 L166.09,220.55 L167.71,219.91 L169.32,219.27 L170.94,218.64 L172.55,218.02 L174.17,217.41 L175.78,216.80 L177.40,216.20 L179.02,215.60 L180.63,215.00 L182.25,214.40 L183.86,213.79 L185.48,213.18 L187.09,212.56 L188.71,211.92 L190.32,211.27 L191.94,210.59 L193.56,209.89 L195.17,209.21 L196.79,208.55 L198.40,207.89 L200.02,207.26 L201.63,206.66 L203.25,206.12 L204.86,205.58 L206.48,205.06 L208.09,204.55 L209.71,204.07 L211.33,203.63 L212.94,203.24 L214.56,202.91 L216.17,202.63 L217.79,202.37 L219.40,202.13 L221.02,201.91 L222.63,201.71 L224.25,201.54 L225.87,201.39 L227.48,201.26 L229.10,201.16 L230.71,201.05 L232.33,200.97 L233.94,200.91 L235.56,200.89 L237.17,200.90 L238.79,200.94 L240.40,201.00 L242.02,201.08 L243.64,201.20 L245.25,201.35 L246.87,201.52 L248.48,201.72 L250.10,201.93 L251.71,202.15 L253.33,202.37 L254.94,202.61 L256.56,202.87 L258.18,203.16 L259.79,203.47 L261.41,203.79 L263.02,204.13 L264.64,204.48 L266.25,204.84 L267.87,205.22 L269.48,205.63 L271.10,206.06 L272.71,206.51 L274.33,206.97 L275.95,207.44 L277.56,207.92 L279.18,208.41 L280.79,208.94 L282.41,209.49 L284.02,210.06 L285.64,210.63 L287.25,211.19 L288.87,211.74 L290.49,212.26 L292.10,212.75 L293.72,213.22 L295.33,213.67 L296.95,214.12 L298.56,214.57 L300.18,215.03 L301.79,215.49 L303.41,215.97 L305.02,216.47 L306.64,216.99 L308.26,217.51 L309.87,218.05 L311.49,218.58 L313.10,219.12 L314.72,219.65 L316.33,220.17 L317.95,220.68 L319.56,221.18 L321.18,221.65 L322.80,222.12 L324.41,222.59 L326.03,223.05 L327.64,223.50 L329.26,223.94 L330.87,224.38 L332.49,224.80 L334.10,225.22 L335.72,225.64 L337.33,226.04 L338.95,226.42 L340.57,226.79 L342.18,227.15 L343.80,227.50 L345.41,227.87 L347.03,228.25 L348.64,228.65 L350.26,229.08 L351.87,229.55 L353.49,230.03 L355.11,230.51 L356.72,230.97 L358.34,231.40 L359.95,231.80 L361.57,232.17 L363.18,232.53 L364.80,232.88 L366.41,233.22 L368.03,233.53 L369.64,233.83 L371.26,234.11 L372.88,234.37 L374.49,234.62 L376.11,234.87 L377.72,235.12 L379.34,235.36 L380.95,235.60 L382.57,235.83 L384.18,236.06 L385.80,236.28 L387.42,236.49 L389.03,236.69 L390.65,236.88 L392.26,237.07 L393.88,237.24 L395.49,237.40 L397.11,237.56 L398.72,237.69 L400.34,237.82 L401.95,237.93 L403.57,238.04 L405.19,238.14 L406.80,238.24 L408.42,238.35 L410.03,238.45 L411.65,238.55 L413.26,238.65 L414.88,238.74 L416.49,238.84 L418.11,238.93 L419.73,239.03 L421.34,239.12 L422.96,239.21 L424.57,239.29 L426.19,239.38 L427.80,239.46 L429.42,239.54 L431.03,239.62 L432.65,239.69 L434.26,239.77 L435.88,239.84 L437.50,239.91 L439.11,239.97 L440.73,240.03 L442.34,240.09 L443.96,240.15 L445.57,240.20 L447.19,240.25 L448.80,240.30 L450.42,240.34 L452.04,240.38 L453.65,240.41 L455.27,240.45 L456.88,240.47 L458.50,240.50 L460.11,240.52 L461.73,240.53 L463.34,240.54 L464.96,240.55 L466.57,240.55" fill="none" stroke="#e02020" stroke-width="0.85" stroke-dasharray="3.7,2.1"/>
<path clip-path="url(#c)" d="M62.70,241.60 L65.93,224.31 L69.16,159.49 L72.39,-5.73 L75.62,-125.20 L78.86,-177.60 L82.09,-51.84 L85.32,22.31 L88.55,85.71 L91.78,131.09 L95.01,161.48 L98.24,181.39 L101.47,194.70 L104.70,204.29 L107.93,211.21 L111.17,216.50 L114.40,220.48 L117.63,223.89 L120.86,226.09 L124.09,228.03 L127.32,229.34 L130.55,230.39 L133.78,231.28 L137.01,231.89 L140.24,232.77 L143.48,233.62 L146.71,234.24 L149.94,234.80 L153.17,235.35 L156.40,235.84 L159.63,236.22 L162.86,236.55 L166.09,236.87 L169.32,237.15 L172.55,237.36 L175.79,237.57 L179.02,237.81 L182.25,238.03 L185.48,238.17 L188.71,238.30 L191.94,238.46 L195.17,238.61 L198.40,238.74 L201.63,238.86 L204.86,238.97 L208.10,239.08 L211.33,239.18 L214.56,239.27 L217.79,239.36 L221.02,239.44 L224.25,239.50 L227.48,239.57 L230.71,239.63 L233.94,239.68 L237.17,239.73 L240.41,239.78 L243.64,239.83 L246.87,239.88 L250.10,239.92 L253.33,239.96 L256.56,240.00 L259.79,240.04 L263.02,240.08 L266.25,240.11 L269.48,240.15 L272.72,240.19 L275.95,240.22 L279.18,240.25 L282.41,240.29 L285.64,240.32 L288.87,240.35 L292.10,240.38 L295.33,240.41 L298.56,240.44 L301.79,240.47 L305.03,240.50 L308.26,240.53 L311.49,240.56 L314.72,240.59 L317.95,240.61 L321.18,240.64 L324.41,240.66 L327.64,240.69 L330.87,240.71 L334.10,240.74 L337.33,240.76 L340.57,240.78 L343.80,240.80 L347.03,240.83 L350.26,240.85 L353.49,240.87 L356.72,240.89 L359.95,240.91 L363.18,240.92 L366.41,240.94 L369.65,240.96 L372.88,240.98 L376.11,241.00 L379.34,241.02 L382.57,241.04 L385.80,241.05 L389.03,241.07 L392.26,241.09 L395.49,241.11 L398.72,241.12 L401.96,241.14 L405.19,241.16 L408.42,241.17 L411.65,241.19 L414.88,241.20 L418.11,241.22 L421.34,241.23 L424.57,241.25 L427.80,241.26 L431.03,241.27 L434.27,241.29 L437.50,241.30 L440.73,241.31 L443.96,241.32 L447.19,241.33 L450.42,241.34 L453.65,241.35 L456.88,241.36 L460.11,241.37 L463.34,241.38 L466.57,241.39 L466.57,241.60 L62.70,241.60 Z" fill="#dfdfdf" stroke="none"/>
<path clip-path="url(#c)" d="M62.70,241.60 L63.51,240.07 L64.32,238.06 L65.12,235.68 L65.93,233.01 L66.74,229.91 L67.55,226.22 L68.35,222.00 L69.16,217.29 L69.97,211.77 L70.78,205.30 L71.59,198.20 L72.39,190.77 L73.20,182.50 L74.01,173.33 L74.82,164.29 L75.62,156.40 L76.43,149.36 L77.24,142.33 L78.05,135.52 L78.86,129.09 L79.66,123.25 L80.47,118.18 L81.28,114.08 L82.09,111.12 L82.89,108.93 L83.70,107.07 L84.51,105.66 L85.32,104.84 L86.12,104.40 L86.93,104.21 L87.74,104.68 L88.55,105.62 L89.36,106.76 L90.16,108.26 L90.97,110.00 L91.78,111.91 L92.59,114.13 L93.39,116.75 L94.20,119.54 L95.01,122.29 L95.82,124.98 L96.63,127.72 L97.43,130.47 L98.24,133.18 L99.05,135.88 L99.86,138.56 L100.66,141.21 L101.47,143.82 L102.28,146.39 L103.09,148.93 L103.90,151.43 L104.70,153.88 L105.51,156.30 L106.32,158.69 L107.13,161.00 L107.93,163.21 L108.74,165.28 L109.55,167.24 L110.36,169.17 L111.17,171.12 L111.97,173.14 L112.78,175.17 L113.59,177.17 L114.40,179.09 L115.20,180.90 L116.01,182.64 L116.82,184.34 L117.63,186.00 L118.43,187.67 L119.24,189.32 L120.05,190.91 L120.86,192.40 L121.67,193.76 L122.47,195.04 L123.28,196.27 L124.09,197.48 L124.90,198.67 L125.70,199.83 L126.51,200.96 L127.32,202.04 L128.13,203.07 L128.94,204.07 L129.74,205.04 L130.55,205.97 L131.36,206.86 L132.17,207.71 L132.97,208.54 L133.78,209.37 L134.59,210.23 L135.40,211.10 L136.21,211.93 L137.01,212.68 L137.82,213.32 L138.63,213.90 L139.44,214.46 L140.24,215.03 L141.05,215.63 L141.86,216.24 L142.67,216.83 L143.48,217.39 L144.28,217.91 L145.09,218.41 L145.90,218.89 L146.71,219.38 L147.51,219.89 L148.32,220.39 L149.13,220.89 L149.94,221.37 L150.74,221.84 L151.55,222.30 L152.36,222.74 L153.17,223.16 L153.98,223.54 L154.78,223.91 L155.59,224.27 L156.40,224.62 L157.21,224.97 L158.01,225.32 L158.82,225.65 L159.63,225.98 L160.44,226.31 L161.25,226.63 L162.05,226.94 L162.86,227.24 L163.67,227.53 L164.48,227.81 L165.28,228.08 L166.09,228.34 L166.90,228.59 L167.71,228.83 L168.52,229.07 L169.32,229.29 L170.13,229.49 L170.94,229.69 L171.75,229.88 L172.55,230.07 L173.36,230.26 L174.17,230.45 L174.98,230.63 L175.79,230.81 L176.59,230.98 L177.40,231.16 L178.21,231.33 L179.02,231.49 L179.82,231.64 L180.63,231.78 L181.44,231.92 L182.25,232.06 L183.05,232.21 L183.86,232.36 L184.67,232.50 L185.48,232.64 L186.29,232.76 L187.09,232.88 L187.90,233.00 L188.71,233.11 L189.52,233.23 L190.32,233.35 L191.13,233.46 L191.94,233.58 L192.75,233.70 L193.56,233.82 L194.36,233.94 L195.17,234.05 L195.98,234.17 L196.79,234.28 L197.59,234.38 L198.40,234.47 L199.21,234.56 L200.02,234.64 L200.83,234.72 L201.63,234.80 L202.44,234.87 L203.25,234.95 L204.06,235.02 L204.86,235.09 L205.67,235.16 L206.48,235.23 L207.29,235.30 L208.10,235.37 L208.90,235.43 L209.71,235.49 L210.52,235.56 L211.33,235.62 L212.13,235.68 L212.94,235.74 L213.75,235.80 L214.56,235.85 L215.36,235.91 L216.17,235.96 L216.98,236.02 L217.79,236.07 L218.60,236.12 L219.40,236.17 L220.21,236.23 L221.02,236.27 L221.83,236.32 L222.63,236.37 L223.44,236.42 L224.25,236.46 L225.06,236.51 L225.87,236.56 L226.67,236.60 L227.48,236.64 L228.29,236.69 L229.10,236.73 L229.90,236.77 L230.71,236.81 L231.52,236.85 L232.33,236.89 L233.14,236.93 L233.94,236.96 L234.75,237.00 L235.56,237.04 L236.37,237.07 L237.17,237.11 L237.98,237.14 L238.79,237.18 L239.60,237.21 L240.41,237.25 L241.21,237.28 L242.02,237.32 L242.83,237.35 L243.64,237.38 L244.44,237.41 L245.25,237.45 L246.06,237.48 L246.87,237.51 L247.67,237.54 L248.48,237.57 L249.29,237.60 L250.10,237.64 L250.91,237.67 L251.71,237.70 L252.52,237.73 L253.33,237.76 L254.14,237.79 L254.94,237.83 L255.75,237.86 L256.56,237.89 L257.37,237.92 L258.18,237.95 L258.98,237.98 L259.79,238.01 L260.60,238.04 L261.41,238.08 L262.21,238.11 L263.02,238.14 L263.83,238.17 L264.64,238.20 L265.45,238.23 L266.25,238.26 L267.06,238.29 L267.87,238.32 L268.68,238.35 L269.48,238.38 L270.29,238.41 L271.10,238.43 L271.91,238.46 L272.72,238.49 L273.52,238.52 L274.33,238.55 L275.14,238.58 L275.95,238.60 L276.75,238.63 L277.56,238.66 L278.37,238.68 L279.18,238.71 L279.98,238.74 L280.79,238.76 L281.60,238.79 L282.41,238.81 L283.22,238.84 L284.02,238.86 L284.83,238.88 L285.64,238.91 L286.45,238.93 L287.25,238.95 L288.06,238.97 L288.87,239.00 L289.68,239.02 L290.49,239.04 L291.29,239.06 L292.10,239.08 L292.91,239.10 L293.72,239.12 L294.52,239.14 L295.33,239.15 L296.14,239.17 L296.95,239.19 L297.76,239.21 L298.56,239.22 L299.37,239.24 L300.18,239.25 L300.99,239.27 L301.79,239.29 L302.60,239.30 L303.41,239.32 L304.22,239.33 L305.03,239.35 L305.83,239.36 L306.64,239.37 L307.45,239.39 L308.26,239.40 L309.06,239.41 L309.87,239.43 L310.68,239.44 L311.49,239.45 L312.29,239.47 L313.10,239.48 L313.91,239.49 L314.72,239.50 L315.53,239.52 L316.33,239.53 L317.14,239.54 L317.95,239.55 L318.76,239.56 L319.56,239.58 L320.37,239.59 L321.18,239.60 L321.99,239.61 L322.80,239.62 L323.60,239.63 L324.41,239.64 L325.22,239.65 L326.03,239.66 L326.83,239.68 L327.64,239.69 L328.45,239.70 L329.26,239.71 L330.07,239.72 L330.87,239.73 L331.68,239.74 L332.49,239.75 L333.30,239.76 L334.10,239.77 L334.91,239.78 L335.72,239.79 L336.53,239.80 L337.33,239.81 L338.14,239.82 L338.95,239.84 L339.76,239.85 L340.57,239.86 L341.37,239.87 L342.18,239.88 L342.99,239.89 L343.80,239.90 L344.60,239.91 L345.41,239.92 L346.22,239.93 L347.03,239.95 L347.84,239.96 L348.64,239.97 L349.45,239.98 L350.26,239.99 L351.07,240.00 L351.87,240.01 L352.68,240.02 L353.49,240.03 L354.30,240.05 L355.11,240.06 L355.91,240.07 L356.72,240.08 L357.53,240.09 L358.34,240.10 L359.14,240.11 L359.95,240.12 L360.76,240.13 L361.57,240.14 L362.38,240.15 L363.18,240.16 L363.99,240.18 L364.80,240.19 L365.61,240.20 L366.41,240.21 L367.22,240.22 L368.03,240.23 L368.84,240.24 L369.65,240.25 L370.45,240.26 L371.26,240.27 L372.07,240.28 L372.88,240.29 L373.68,240.30 L374.49,240.31 L375.30,240.32 L376.11,240.33 L376.91,240.34 L377.72,240.35 L378.53,240.36 L379.34,240.37 L380.15,240.38 L380.95,240.39 L381.76,240.40 L382.57,240.41 L383.38,240.42 L384.18,240.43 L384.99,240.44 L385.80,240.45 L386.61,240.46 L387.42,240.47 L388.22,240.48 L389.03,240.48 L389.84,240.49 L390.65,240.50 L391.45,240.51 L392.26,240.52 L393.07,240.53 L393.88,240.54 L394.69,240.55 L395.49,240.56 L396.30,240.57 L397.11,240.58 L397.92,240.59 L398.72,240.60 L399.53,240.61 L400.34,240.61 L401.15,240.62 L401.96,240.63 L402.76,240.64 L403.57,240.65 L404.38,240.66 L405.19,240.67 L405.99,240.68 L406.80,240.69 L407.61,240.70 L408.42,240.71 L409.22,240.71 L410.03,240.72 L410.84,240.73 L411.65,240.74 L412.46,240.75 L413.26,240.76 L414.07,240.77 L414.88,240.78 L415.69,240.78 L416.49,240.79 L417.30,240.80 L418.11,240.81 L418.92,240.82 L419.73,240.83 L420.53,240.84 L421.34,240.85 L422.15,240.85 L422.96,240.86 L423.76,240.87 L424.57,240.88 L425.38,240.89 L426.19,240.90 L427.00,240.91 L427.80,240.91 L428.61,240.92 L429.42,240.93 L430.23,240.94 L431.03,240.95 L431.84,240.96 L432.65,240.96 L433.46,240.97 L434.27,240.98 L435.07,240.99 L435.88,241.00 L436.69,241.00 L437.50,241.01 L438.30,241.02 L439.11,241.03 L439.92,241.04 L440.73,241.05 L441.53,241.05 L442.34,241.06 L443.15,241.07 L443.96,241.08 L444.77,241.08 L445.57,241.09 L446.38,241.10 L447.19,241.11 L448.00,241.12 L448.80,241.12 L449.61,241.13 L450.42,241.14 L451.23,241.15 L452.04,241.15 L452.84,241.16 L453.65,241.17 L454.46,241.18 L455.27,241.18 L456.07,241.19 L456.88,241.20 L457.69,241.21 L458.50,241.21 L459.31,241.22 L460.11,241.23 L460.92,241.24 L461.73,241.24 L462.54,241.25 L463.34,241.26 L464.15,241.26 L464.96,241.27 L465.77,241.28 L466.57,241.29 L466.57,241.60 L62.70,241.60 Z" fill="#bfbfbf" stroke="none"/>
<path clip-path="url(#c)" d="M62.70,241.60 L65.93,224.31 L69.16,159.49 L72.39,-5.73 L75.62,-125.20 L78.86,-177.60 L82.09,-51.84 L85.32,22.31 L88.55,85.71 L91.78,131.09 L95.01,161.48 L98.24,181.39 L101.47,194.70 L104.70,204.29 L107.93,211.21 L111.17,216.50 L114.40,220.48 L117.63,223.89 L120.86,226.09 L124.09,228.03 L127.32,229.34 L130.55,230.39 L133.78,231.28 L137.01,231.89 L140.24,232.77 L143.48,233.62 L146.71,234.24 L149.94,234.80 L153.17,235.35 L156.40,235.84 L159.63,236.22 L162.86,236.55 L166.09,236.87 L169.32,237.15 L172.55,237.36 L175.79,237.57 L179.02,237.81 L182.25,238.03 L185.48,238.17 L188.71,238.30 L191.94,238.46 L195.17,238.61 L198.40,238.74 L201.63,238.86 L204.86,238.97 L208.10,239.08 L211.33,239.18 L214.56,239.27 L217.79,239.36 L221.02,239.44 L224.25,239.50 L227.48,239.57 L230.71,239.63 L233.94,239.68 L237.17,239.73 L240.41,239.78 L243.64,239.83 L246.87,239.88 L250.10,239.92 L253.33,239.96 L256.56,240.00 L259.79,240.04 L263.02,240.08 L266.25,240.11 L269.48,240.15 L272.72,240.19 L275.95,240.22 L279.18,240.25 L282.41,240.29 L285.64,240.32 L288.87,240.35 L292.10,240.38 L295.33,240.41 L298.56,240.44 L301.79,240.47 L305.03,240.50 L308.26,240.53 L311.49,240.56 L314.72,240.59 L317.95,240.61 L321.18,240.64 L324.41,240.66 L327.64,240.69 L330.87,240.71 L334.10,240.74 L337.33,240.76 L340.57,240.78 L343.80,240.80 L347.03,240.83 L350.26,240.85 L353.49,240.87 L356.72,240.89 L359.95,240.91 L363.18,240.92 L366.41,240.94 L369.65,240.96 L372.88,240.98 L376.11,241.00 L379.34,241.02 L382.57,241.04 L385.80,241.05 L389.03,241.07 L392.26,241.09 L395.49,241.11 L398.72,241.12 L401.96,241.14 L405.19,241.16 L408.42,241.17 L411.65,241.19 L414.88,241.20 L418.11,241.22 L421.34,241.23 L424.57,241.25 L427.80,241.26 L431.03,241.27 L434.27,241.29 L437.50,241.30 L440.73,241.31 L443.96,241.32 L447.19,241.33 L450.42,241.34 L453.65,241.35 L456.88,241.36 L460.11,241.37 L463.34,241.38 L466.57,241.39" fill="none" stroke="#808080" stroke-width="0.9" stroke-linejoin="round"/>
<g fill="#6c6c6c"><circle cx="62.70" cy="241.60" r="1.55"/><circle cx="65.93" cy="224.31" r="1.55"/><circle cx="69.16" cy="159.49" r="1.55"/><circle cx="85.32" cy="22.31" r="1.55"/><circle cx="88.55" cy="85.71" r="1.55"/><circle cx="91.78" cy="131.09" r="1.55"/><circle cx="95.01" cy="161.48" r="1.55"/><circle cx="98.24" cy="181.39" r="1.55"/><circle cx="101.47" cy="194.70" r="1.55"/><circle cx="104.70" cy="204.29" r="1.55"/><circle cx="107.93" cy="211.21" r="1.55"/><circle cx="111.17" cy="216.50" r="1.55"/><circle cx="114.40" cy="220.48" r="1.55"/><circle cx="117.63" cy="223.89" r="1.55"/><circle cx="120.86" cy="226.09" r="1.55"/><circle cx="124.09" cy="228.03" r="1.55"/><circle cx="127.32" cy="229.34" r="1.55"/><circle cx="130.55" cy="230.39" r="1.55"/><circle cx="133.78" cy="231.28" r="1.55"/><circle cx="137.01" cy="231.89" r="1.55"/><circle cx="140.24" cy="232.77" r="1.55"/><circle cx="143.48" cy="233.62" r="1.55"/><circle cx="146.71" cy="234.24" r="1.55"/><circle cx="149.94" cy="234.80" r="1.55"/><circle cx="153.17" cy="235.35" r="1.55"/><circle cx="156.40" cy="235.84" r="1.55"/><circle cx="159.63" cy="236.22" r="1.55"/><circle cx="162.86" cy="236.55" r="1.55"/><circle cx="166.09" cy="236.87" r="1.55"/><circle cx="169.32" cy="237.15" r="1.55"/><circle cx="172.55" cy="237.36" r="1.55"/><circle cx="175.79" cy="237.57" r="1.55"/><circle cx="179.02" cy="237.81" r="1.55"/><circle cx="182.25" cy="238.03" r="1.55"/><circle cx="185.48" cy="238.17" r="1.55"/><circle cx="188.71" cy="238.30" r="1.55"/><circle cx="191.94" cy="238.46" r="1.55"/><circle cx="195.17" cy="238.61" r="1.55"/><circle cx="198.40" cy="238.74" r="1.55"/><circle cx="201.63" cy="238.86" r="1.55"/><circle cx="204.86" cy="238.97" r="1.55"/><circle cx="208.10" cy="239.08" r="1.55"/><circle cx="211.33" cy="239.18" r="1.55"/><circle cx="214.56" cy="239.27" r="1.55"/><circle cx="217.79" cy="239.36" r="1.55"/><circle cx="221.02" cy="239.44" r="1.55"/><circle cx="224.25" cy="239.50" r="1.55"/><circle cx="227.48" cy="239.57" r="1.55"/><circle cx="230.71" cy="239.63" r="1.55"/><circle cx="233.94" cy="239.68" r="1.55"/><circle cx="237.17" cy="239.73" r="1.55"/><circle cx="240.41" cy="239.78" r="1.55"/><circle cx="243.64" cy="239.83" r="1.55"/><circle cx="246.87" cy="239.88" r="1.55"/><circle cx="250.10" cy="239.92" r="1.55"/><circle cx="253.33" cy="239.96" r="1.55"/><circle cx="256.56" cy="240.00" r="1.55"/><circle cx="259.79" cy="240.04" r="1.55"/><circle cx="263.02" cy="240.08" r="1.55"/><circle cx="266.25" cy="240.11" r="1.55"/><circle cx="269.48" cy="240.15" r="1.55"/><circle cx="272.72" cy="240.19" r="1.55"/><circle cx="275.95" cy="240.22" r="1.55"/><circle cx="279.18" cy="240.25" r="1.55"/><circle cx="282.41" cy="240.29" r="1.55"/><circle cx="285.64" cy="240.32" r="1.55"/><circle cx="288.87" cy="240.35" r="1.55"/><circle cx="292.10" cy="240.38" r="1.55"/><circle cx="295.33" cy="240.41" r="1.55"/><circle cx="298.56" cy="240.44" r="1.55"/><circle cx="301.79" cy="240.47" r="1.55"/><circle cx="305.03" cy="240.50" r="1.55"/><circle cx="308.26" cy="240.53" r="1.55"/><circle cx="311.49" cy="240.56" r="1.55"/><circle cx="314.72" cy="240.59" r="1.55"/><circle cx="317.95" cy="240.61" r="1.55"/><circle cx="321.18" cy="240.64" r="1.55"/><circle cx="324.41" cy="240.66" r="1.55"/><circle cx="327.64" cy="240.69" r="1.55"/><circle cx="330.87" cy="240.71" r="1.55"/><circle cx="334.10" cy="240.74" r="1.55"/><circle cx="337.33" cy="240.76" r="1.55"/><circle cx="340.57" cy="240.78" r="1.55"/><circle cx="343.80" cy="240.80" r="1.55"/><circle cx="347.03" cy="240.83" r="1.55"/><circle cx="350.26" cy="240.85" r="1.55"/><circle cx="353.49" cy="240.87" r="1.55"/><circle cx="356.72" cy="240.89" r="1.55"/><circle cx="359.95" cy="240.91" r="1.55"/><circle cx="363.18" cy="240.92" r="1.55"/><circle cx="366.41" cy="240.94" r="1.55"/><circle cx="369.65" cy="240.96" r="1.55"/><circle cx="372.88" cy="240.98" r="1.55"/><circle cx="376.11" cy="241.00" r="1.55"/><circle cx="379.34" cy="241.02" r="1.55"/><circle cx="382.57" cy="241.04" r="1.55"/><circle cx="385.80" cy="241.05" r="1.55"/><circle cx="389.03" cy="241.07" r="1.55"/><circle cx="392.26" cy="241.09" r="1.55"/><circle cx="395.49" cy="241.11" r="1.55"/><circle cx="398.72" cy="241.12" r="1.55"/><circle cx="401.96" cy="241.14" r="1.55"/><circle cx="405.19" cy="241.16" r="1.55"/><circle cx="408.42" cy="241.17" r="1.55"/><circle cx="411.65" cy="241.19" r="1.55"/><circle cx="414.88" cy="241.20" r="1.55"/><circle cx="418.11" cy="241.22" r="1.55"/><circle cx="421.34" cy="241.23" r="1.55"/><circle cx="424.57" cy="241.25" r="1.55"/><circle cx="427.80" cy="241.26" r="1.55"/><circle cx="431.03" cy="241.27" r="1.55"/><circle cx="434.27" cy="241.29" r="1.55"/><circle cx="437.50" cy="241.30" r="1.55"/><circle cx="440.73" cy="241.31" r="1.55"/><circle cx="443.96" cy="241.32" r="1.55"/><circle cx="447.19" cy="241.33" r="1.55"/><circle cx="450.42" cy="241.34" r="1.55"/><circle cx="453.65" cy="241.35" r="1.55"/><circle cx="456.88" cy="241.36" r="1.55"/><circle cx="460.11" cy="241.37" r="1.55"/><circle cx="463.34" cy="241.38" r="1.55"/><circle cx="466.57" cy="241.39" r="1.55"/></g>
<path clip-path="url(#c)" d="M62.70,241.60 L63.51,240.07 L64.32,238.06 L65.12,235.68 L65.93,233.01 L66.74,229.91 L67.55,226.22 L68.35,222.00 L69.16,217.29 L69.97,211.77 L70.78,205.30 L71.59,198.20 L72.39,190.77 L73.20,182.50 L74.01,173.33 L74.82,164.29 L75.62,156.40 L76.43,149.36 L77.24,142.33 L78.05,135.52 L78.86,129.09 L79.66,123.25 L80.47,118.18 L81.28,114.08 L82.09,111.12 L82.89,108.93 L83.70,107.07 L84.51,105.66 L85.32,104.84 L86.12,104.40 L86.93,104.21 L87.74,104.68 L88.55,105.62 L89.36,106.76 L90.16,108.26 L90.97,110.00 L91.78,111.91 L92.59,114.13 L93.39,116.75 L94.20,119.54 L95.01,122.29 L95.82,124.98 L96.63,127.72 L97.43,130.47 L98.24,133.18 L99.05,135.88 L99.86,138.56 L100.66,141.21 L101.47,143.82 L102.28,146.39 L103.09,148.93 L103.90,151.43 L104.70,153.88 L105.51,156.30 L106.32,158.69 L107.13,161.00 L107.93,163.21 L108.74,165.28 L109.55,167.24 L110.36,169.17 L111.17,171.12 L111.97,173.14 L112.78,175.17 L113.59,177.17 L114.40,179.09 L115.20,180.90 L116.01,182.64 L116.82,184.34 L117.63,186.00 L118.43,187.67 L119.24,189.32 L120.05,190.91 L120.86,192.40 L121.67,193.76 L122.47,195.04 L123.28,196.27 L124.09,197.48 L124.90,198.67 L125.70,199.83 L126.51,200.96 L127.32,202.04 L128.13,203.07 L128.94,204.07 L129.74,205.04 L130.55,205.97 L131.36,206.86 L132.17,207.71 L132.97,208.54 L133.78,209.37 L134.59,210.23 L135.40,211.10 L136.21,211.93 L137.01,212.68 L137.82,213.32 L138.63,213.90 L139.44,214.46 L140.24,215.03 L141.05,215.63 L141.86,216.24 L142.67,216.83 L143.48,217.39 L144.28,217.91 L145.09,218.41 L145.90,218.89 L146.71,219.38 L147.51,219.89 L148.32,220.39 L149.13,220.89 L149.94,221.37 L150.74,221.84 L151.55,222.30 L152.36,222.74 L153.17,223.16 L153.98,223.54 L154.78,223.91 L155.59,224.27 L156.40,224.62 L157.21,224.97 L158.01,225.32 L158.82,225.65 L159.63,225.98 L160.44,226.31 L161.25,226.63 L162.05,226.94 L162.86,227.24 L163.67,227.53 L164.48,227.81 L165.28,228.08 L166.09,228.34 L166.90,228.59 L167.71,228.83 L168.52,229.07 L169.32,229.29 L170.13,229.49 L170.94,229.69 L171.75,229.88 L172.55,230.07 L173.36,230.26 L174.17,230.45 L174.98,230.63 L175.79,230.81 L176.59,230.98 L177.40,231.16 L178.21,231.33 L179.02,231.49 L179.82,231.64 L180.63,231.78 L181.44,231.92 L182.25,232.06 L183.05,232.21 L183.86,232.36 L184.67,232.50 L185.48,232.64 L186.29,232.76 L187.09,232.88 L187.90,233.00 L188.71,233.11 L189.52,233.23 L190.32,233.35 L191.13,233.46 L191.94,233.58 L192.75,233.70 L193.56,233.82 L194.36,233.94 L195.17,234.05 L195.98,234.17 L196.79,234.28 L197.59,234.38 L198.40,234.47 L199.21,234.56 L200.02,234.64 L200.83,234.72 L201.63,234.80 L202.44,234.87 L203.25,234.95 L204.06,235.02 L204.86,235.09 L205.67,235.16 L206.48,235.23 L207.29,235.30 L208.10,235.37 L208.90,235.43 L209.71,235.49 L210.52,235.56 L211.33,235.62 L212.13,235.68 L212.94,235.74 L213.75,235.80 L214.56,235.85 L215.36,235.91 L216.17,235.96 L216.98,236.02 L217.79,236.07 L218.60,236.12 L219.40,236.17 L220.21,236.23 L221.02,236.27 L221.83,236.32 L222.63,236.37 L223.44,236.42 L224.25,236.46 L225.06,236.51 L225.87,236.56 L226.67,236.60 L227.48,236.64 L228.29,236.69 L229.10,236.73 L229.90,236.77 L230.71,236.81 L231.52,236.85 L232.33,236.89 L233.14,236.93 L233.94,236.96 L234.75,237.00 L235.56,237.04 L236.37,237.07 L237.17,237.11 L237.98,237.14 L238.79,237.18 L239.60,237.21 L240.41,237.25 L241.21,237.28 L242.02,237.32 L242.83,237.35 L243.64,237.38 L244.44,237.41 L245.25,237.45 L246.06,237.48 L246.87,237.51 L247.67,237.54 L248.48,237.57 L249.29,237.60 L250.10,237.64 L250.91,237.67 L251.71,237.70 L252.52,237.73 L253.33,237.76 L254.14,237.79 L254.94,237.83 L255.75,237.86 L256.56,237.89 L257.37,237.92 L258.18,237.95 L258.98,237.98 L259.79,238.01 L260.60,238.04 L261.41,238.08 L262.21,238.11 L263.02,238.14 L263.83,238.17 L264.64,238.20 L265.45,238.23 L266.25,238.26 L267.06,238.29 L267.87,238.32 L268.68,238.35 L269.48,238.38 L270.29,238.41 L271.10,238.43 L271.91,238.46 L272.72,238.49 L273.52,238.52 L274.33,238.55 L275.14,238.58 L275.95,238.60 L276.75,238.63 L277.56,238.66 L278.37,238.68 L279.18,238.71 L279.98,238.74 L280.79,238.76 L281.60,238.79 L282.41,238.81 L283.22,238.84 L284.02,238.86 L284.83,238.88 L285.64,238.91 L286.45,238.93 L287.25,238.95 L288.06,238.97 L288.87,239.00 L289.68,239.02 L290.49,239.04 L291.29,239.06 L292.10,239.08 L292.91,239.10 L293.72,239.12 L294.52,239.14 L295.33,239.15 L296.14,239.17 L296.95,239.19 L297.76,239.21 L298.56,239.22 L299.37,239.24 L300.18,239.25 L300.99,239.27 L301.79,239.29 L302.60,239.30 L303.41,239.32 L304.22,239.33 L305.03,239.35 L305.83,239.36 L306.64,239.37 L307.45,239.39 L308.26,239.40 L309.06,239.41 L309.87,239.43 L310.68,239.44 L311.49,239.45 L312.29,239.47 L313.10,239.48 L313.91,239.49 L314.72,239.50 L315.53,239.52 L316.33,239.53 L317.14,239.54 L317.95,239.55 L318.76,239.56 L319.56,239.58 L320.37,239.59 L321.18,239.60 L321.99,239.61 L322.80,239.62 L323.60,239.63 L324.41,239.64 L325.22,239.65 L326.03,239.66 L326.83,239.68 L327.64,239.69 L328.45,239.70 L329.26,239.71 L330.07,239.72 L330.87,239.73 L331.68,239.74 L332.49,239.75 L333.30,239.76 L334.10,239.77 L334.91,239.78 L335.72,239.79 L336.53,239.80 L337.33,239.81 L338.14,239.82 L338.95,239.84 L339.76,239.85 L340.57,239.86 L341.37,239.87 L342.18,239.88 L342.99,239.89 L343.80,239.90 L344.60,239.91 L345.41,239.92 L346.22,239.93 L347.03,239.95 L347.84,239.96 L348.64,239.97 L349.45,239.98 L350.26,239.99 L351.07,240.00 L351.87,240.01 L352.68,240.02 L353.49,240.03 L354.30,240.05 L355.11,240.06 L355.91,240.07 L356.72,240.08 L357.53,240.09 L358.34,240.10 L359.14,240.11 L359.95,240.12 L360.76,240.13 L361.57,240.14 L362.38,240.15 L363.18,240.16 L363.99,240.18 L364.80,240.19 L365.61,240.20 L366.41,240.21 L367.22,240.22 L368.03,240.23 L368.84,240.24 L369.65,240.25 L370.45,240.26 L371.26,240.27 L372.07,240.28 L372.88,240.29 L373.68,240.30 L374.49,240.31 L375.30,240.32 L376.11,240.33 L376.91,240.34 L377.72,240.35 L378.53,240.36 L379.34,240.37 L380.15,240.38 L380.95,240.39 L381.76,240.40 L382.57,240.41 L383.38,240.42 L384.18,240.43 L384.99,240.44 L385.80,240.45 L386.61,240.46 L387.42,240.47 L388.22,240.48 L389.03,240.48 L389.84,240.49 L390.65,240.50 L391.45,240.51 L392.26,240.52 L393.07,240.53 L393.88,240.54 L394.69,240.55 L395.49,240.56 L396.30,240.57 L397.11,240.58 L397.92,240.59 L398.72,240.60 L399.53,240.61 L400.34,240.61 L401.15,240.62 L401.96,240.63 L402.76,240.64 L403.57,240.65 L404.38,240.66 L405.19,240.67 L405.99,240.68 L406.80,240.69 L407.61,240.70 L408.42,240.71 L409.22,240.71 L410.03,240.72 L410.84,240.73 L411.65,240.74 L412.46,240.75 L413.26,240.76 L414.07,240.77 L414.88,240.78 L415.69,240.78 L416.49,240.79 L417.30,240.80 L418.11,240.81 L418.92,240.82 L419.73,240.83 L420.53,240.84 L421.34,240.85 L422.15,240.85 L422.96,240.86 L423.76,240.87 L424.57,240.88 L425.38,240.89 L426.19,240.90 L427.00,240.91 L427.80,240.91 L428.61,240.92 L429.42,240.93 L430.23,240.94 L431.03,240.95 L431.84,240.96 L432.65,240.96 L433.46,240.97 L434.27,240.98 L435.07,240.99 L435.88,241.00 L436.69,241.00 L437.50,241.01 L438.30,241.02 L439.11,241.03 L439.92,241.04 L440.73,241.05 L441.53,241.05 L442.34,241.06 L443.15,241.07 L443.96,241.08 L444.77,241.08 L445.57,241.09 L446.38,241.10 L447.19,241.11 L448.00,241.12 L448.80,241.12 L449.61,241.13 L450.42,241.14 L451.23,241.15 L452.04,241.15 L452.84,241.16 L453.65,241.17 L454.46,241.18 L455.27,241.18 L456.07,241.19 L456.88,241.20 L457.69,241.21 L458.50,241.21 L459.31,241.22 L460.11,241.23 L460.92,241.24 L461.73,241.24 L462.54,241.25 L463.34,241.26 L464.15,241.26 L464.96,241.27 L465.77,241.28 L466.57,241.29" fill="none" stroke="#000000" stroke-width="1.05" stroke-linejoin="round"/>
<g fill="#000000"><circle cx="62.70" cy="241.60" r="1.75"/><circle cx="65.93" cy="233.01" r="1.75"/><circle cx="69.16" cy="217.29" r="1.75"/><circle cx="72.39" cy="190.77" r="1.75"/><circle cx="75.62" cy="156.40" r="1.75"/><circle cx="78.86" cy="124.22" r="1.75"/><circle cx="82.09" cy="104.57" r="1.75"/><circle cx="85.32" cy="99.33" r="1.75"/><circle cx="88.55" cy="103.58" r="1.75"/><circle cx="91.78" cy="111.91" r="1.75"/><circle cx="95.01" cy="122.29" r="1.75"/><circle cx="98.24" cy="133.18" r="1.75"/><circle cx="101.47" cy="143.82" r="1.75"/><circle cx="104.70" cy="153.88" r="1.75"/><circle cx="107.93" cy="163.21" r="1.75"/><circle cx="111.17" cy="171.12" r="1.75"/><circle cx="114.40" cy="179.09" r="1.75"/><circle cx="117.63" cy="186.00" r="1.75"/><circle cx="120.86" cy="192.40" r="1.75"/><circle cx="124.09" cy="197.48" r="1.75"/><circle cx="127.32" cy="202.04" r="1.75"/><circle cx="130.55" cy="205.97" r="1.75"/><circle cx="133.78" cy="209.37" r="1.75"/><circle cx="137.01" cy="212.68" r="1.75"/><circle cx="140.24" cy="215.03" r="1.75"/><circle cx="143.48" cy="217.39" r="1.75"/><circle cx="146.71" cy="219.38" r="1.75"/><circle cx="149.94" cy="221.37" r="1.75"/><circle cx="153.17" cy="223.16" r="1.75"/><circle cx="156.40" cy="224.62" r="1.75"/><circle cx="159.63" cy="225.98" r="1.75"/><circle cx="162.86" cy="227.24" r="1.75"/><circle cx="166.09" cy="228.34" r="1.75"/><circle cx="169.32" cy="229.29" r="1.75"/><circle cx="172.55" cy="230.07" r="1.75"/><circle cx="175.79" cy="230.81" r="1.75"/><circle cx="179.02" cy="231.49" r="1.75"/><circle cx="182.25" cy="232.06" r="1.75"/><circle cx="185.48" cy="232.64" r="1.75"/><circle cx="188.71" cy="233.11" r="1.75"/><circle cx="191.94" cy="233.58" r="1.75"/><circle cx="195.17" cy="234.05" r="1.75"/><circle cx="198.40" cy="234.47" r="1.75"/><circle cx="201.63" cy="234.80" r="1.75"/><circle cx="204.86" cy="235.09" r="1.75"/><circle cx="208.10" cy="235.37" r="1.75"/><circle cx="211.33" cy="235.62" r="1.75"/><circle cx="214.56" cy="235.85" r="1.75"/><circle cx="217.79" cy="236.07" r="1.75"/><circle cx="221.02" cy="236.27" r="1.75"/><circle cx="224.25" cy="236.46" r="1.75"/><circle cx="227.48" cy="236.64" r="1.75"/><circle cx="230.71" cy="236.81" r="1.75"/><circle cx="233.94" cy="236.96" r="1.75"/><circle cx="237.17" cy="237.11" r="1.75"/><circle cx="240.41" cy="237.25" r="1.75"/><circle cx="243.64" cy="237.38" r="1.75"/><circle cx="246.87" cy="237.51" r="1.75"/><circle cx="250.10" cy="237.64" r="1.75"/><circle cx="253.33" cy="237.76" r="1.75"/><circle cx="256.56" cy="237.89" r="1.75"/><circle cx="259.79" cy="238.01" r="1.75"/><circle cx="263.02" cy="238.14" r="1.75"/><circle cx="266.25" cy="238.26" r="1.75"/><circle cx="269.48" cy="238.38" r="1.75"/><circle cx="272.72" cy="238.49" r="1.75"/><circle cx="275.95" cy="238.60" r="1.75"/><circle cx="279.18" cy="238.71" r="1.75"/><circle cx="282.41" cy="238.81" r="1.75"/><circle cx="285.64" cy="238.91" r="1.75"/><circle cx="288.87" cy="239.00" r="1.75"/><circle cx="292.10" cy="239.08" r="1.75"/><circle cx="295.33" cy="239.15" r="1.75"/><circle cx="298.56" cy="239.22" r="1.75"/><circle cx="301.79" cy="239.29" r="1.75"/><circle cx="305.03" cy="239.35" r="1.75"/><circle cx="308.26" cy="239.40" r="1.75"/><circle cx="311.49" cy="239.45" r="1.75"/><circle cx="314.72" cy="239.50" r="1.75"/><circle cx="317.95" cy="239.55" r="1.75"/><circle cx="321.18" cy="239.60" r="1.75"/><circle cx="324.41" cy="239.64" r="1.75"/><circle cx="327.64" cy="239.69" r="1.75"/><circle cx="330.87" cy="239.73" r="1.75"/><circle cx="334.10" cy="239.77" r="1.75"/><circle cx="337.33" cy="239.81" r="1.75"/><circle cx="340.57" cy="239.86" r="1.75"/><circle cx="343.80" cy="239.90" r="1.75"/><circle cx="347.03" cy="239.95" r="1.75"/><circle cx="350.26" cy="239.99" r="1.75"/><circle cx="353.49" cy="240.03" r="1.75"/><circle cx="356.72" cy="240.08" r="1.75"/><circle cx="359.95" cy="240.12" r="1.75"/><circle cx="363.18" cy="240.16" r="1.75"/><circle cx="366.41" cy="240.21" r="1.75"/><circle cx="369.65" cy="240.25" r="1.75"/><circle cx="372.88" cy="240.29" r="1.75"/><circle cx="376.11" cy="240.33" r="1.75"/><circle cx="379.34" cy="240.37" r="1.75"/><circle cx="382.57" cy="240.41" r="1.75"/><circle cx="385.80" cy="240.45" r="1.75"/><circle cx="389.03" cy="240.48" r="1.75"/><circle cx="392.26" cy="240.52" r="1.75"/><circle cx="395.49" cy="240.56" r="1.75"/><circle cx="398.72" cy="240.60" r="1.75"/><circle cx="401.96" cy="240.63" r="1.75"/><circle cx="405.19" cy="240.67" r="1.75"/><circle cx="408.42" cy="240.71" r="1.75"/><circle cx="411.65" cy="240.74" r="1.75"/><circle cx="414.88" cy="240.78" r="1.75"/><circle cx="418.11" cy="240.81" r="1.75"/><circle cx="421.34" cy="240.85" r="1.75"/><circle cx="424.57" cy="240.88" r="1.75"/><circle cx="427.80" cy="240.91" r="1.75"/><circle cx="431.03" cy="240.95" r="1.75"/><circle cx="434.27" cy="240.98" r="1.75"/><circle cx="437.50" cy="241.01" r="1.75"/><circle cx="440.73" cy="241.05" r="1.75"/><circle cx="443.96" cy="241.08" r="1.75"/><circle cx="447.19" cy="241.11" r="1.75"/><circle cx="450.42" cy="241.14" r="1.75"/><circle cx="453.65" cy="241.17" r="1.75"/><circle cx="456.88" cy="241.20" r="1.75"/><circle cx="460.11" cy="241.23" r="1.75"/><circle cx="463.34" cy="241.26" r="1.75"/><circle cx="466.57" cy="241.29" r="1.75"/></g>
<path clip-path="url(#c)" d="M62.70,206.18 L64.32,205.61 L65.93,205.06 L67.55,204.52 L69.16,203.99 L70.78,203.48 L72.39,202.98 L74.01,202.50 L75.62,202.04 L77.24,201.58 L78.86,201.12 L80.47,200.65 L82.09,200.20 L83.70,199.78 L85.32,199.37 L86.93,199.01 L88.55,198.69 L90.16,198.42 L91.78,198.19 L93.39,197.95 L95.01,197.73 L96.63,197.53 L98.24,197.36 L99.86,197.22 L101.47,197.11 L103.09,197.06 L104.70,197.03 L106.32,197.01 L107.93,197.01 L109.55,197.05 L111.17,197.17 L112.78,197.34 L114.40,197.56 L116.01,197.83 L117.63,198.12 L119.24,198.44 L120.86,198.78 L122.47,199.12 L124.09,199.45 L125.70,199.84 L127.32,200.29 L128.94,200.80 L130.55,201.33 L132.17,201.88 L133.78,202.42 L135.40,202.95 L137.01,203.47 L138.63,204.00 L140.24,204.55 L141.86,205.14 L143.48,205.77 L145.09,206.50 L146.71,207.31 L148.32,208.10 L149.94,208.84 L151.55,209.56 L153.17,210.26 L154.78,210.96 L156.40,211.64 L158.01,212.30 L159.63,212.94 L161.25,213.55 L162.86,214.13 L164.48,214.71 L166.09,215.28 L167.71,215.88 L169.32,216.50 L170.94,217.16 L172.55,217.81 L174.17,218.45 L175.79,219.10 L177.40,219.76 L179.02,220.41 L180.63,221.05 L182.25,221.70 L183.86,222.33 L185.48,222.94 L187.09,223.54 L188.71,224.12 L190.32,224.68 L191.94,225.23 L193.56,225.76 L195.17,226.27 L196.79,226.76 L198.40,227.22 L200.02,227.66 L201.63,228.09 L203.25,228.51 L204.86,228.91 L206.48,229.31 L208.10,229.71 L209.71,230.09 L211.33,230.46 L212.94,230.82 L214.56,231.18 L216.17,231.53 L217.79,231.87 L219.40,232.20 L221.02,232.52 L222.63,232.83 L224.25,233.14 L225.87,233.44 L227.48,233.75 L229.10,234.05 L230.71,234.35 L232.33,234.64 L233.94,234.92 L235.56,235.19 L237.17,235.45 L238.79,235.69 L240.41,235.93 L242.02,236.14 L243.64,236.34 L245.25,236.52 L246.87,236.68 L248.48,236.84 L250.10,236.99 L251.71,237.13 L253.33,237.27 L254.94,237.40 L256.56,237.53 L258.18,237.65 L259.79,237.77 L261.41,237.88 L263.02,237.99 L264.64,238.09 L266.25,238.19 L267.87,238.29 L269.48,238.38 L271.10,238.47 L272.72,238.56 L274.33,238.65 L275.95,238.73 L277.56,238.81 L279.18,238.89 L280.79,238.97 L282.41,239.04 L284.02,239.11 L285.64,239.18 L287.25,239.25 L288.87,239.32 L290.49,239.39 L292.10,239.45 L293.72,239.51 L295.33,239.57 L296.95,239.62 L298.56,239.68 L300.18,239.73 L301.79,239.78 L303.41,239.83 L305.03,239.87 L306.64,239.91 L308.26,239.96 L309.87,240.00 L311.49,240.04 L313.10,240.08 L314.72,240.12 L316.33,240.16 L317.95,240.20 L319.56,240.24 L321.18,240.28 L322.80,240.31 L324.41,240.35 L326.03,240.39 L327.64,240.42 L329.26,240.45 L330.87,240.48 L332.49,240.52 L334.10,240.55 L335.72,240.58 L337.33,240.60 L338.95,240.63 L340.57,240.66 L342.18,240.68 L343.80,240.70 L345.41,240.73 L347.03,240.75 L348.64,240.76 L350.26,240.78 L351.87,240.80 L353.49,240.81 L355.11,240.83 L356.72,240.84 L358.34,240.86 L359.95,240.87 L361.57,240.88 L363.18,240.90 L364.80,240.91 L366.41,240.92 L368.03,240.94 L369.65,240.95 L371.26,240.96 L372.88,240.98 L374.49,240.99 L376.11,241.00 L377.72,241.01 L379.34,241.03 L380.95,241.04 L382.57,241.05 L384.18,241.06 L385.80,241.07 L387.42,241.08 L389.03,241.10 L390.65,241.11 L392.26,241.12 L393.88,241.13 L395.49,241.14 L397.11,241.15 L398.72,241.16 L400.34,241.17 L401.96,241.18 L403.57,241.19 L405.19,241.20 L406.80,241.21 L408.42,241.22 L410.03,241.23 L411.65,241.23 L413.26,241.24 L414.88,241.25 L416.49,241.26 L418.11,241.27 L419.73,241.28 L421.34,241.28 L422.96,241.29 L424.57,241.30 L426.19,241.30 L427.80,241.31 L429.42,241.32 L431.03,241.32 L432.65,241.33 L434.27,241.33 L435.88,241.34 L437.50,241.34 L439.11,241.35 L440.73,241.35 L442.34,241.36 L443.96,241.36 L445.57,241.37 L447.19,241.37 L448.80,241.37 L450.42,241.38 L452.04,241.38 L453.65,241.38 L455.27,241.38 L456.88,241.39 L458.50,241.39 L460.11,241.39 L461.73,241.39 L463.34,241.39 L464.96,241.39 L466.57,241.39" fill="none" stroke="#202020" stroke-width="0.85" stroke-dasharray="3.7,2.1"/>
<path d="M62.57,242.0 V0.3 H467.0 V242.0" fill="none" stroke="#000" stroke-width="1.5"/><path d="M61.82,241.5 H467.75" fill="none" stroke="#000" stroke-width="1.0"/><path d="M143.46,241.7 v-6.2 M143.46,0.3 v6.2 M224.34,241.7 v-6.2 M224.34,0.3 v6.2 M305.23,241.7 v-6.2 M305.23,0.3 v6.2 M386.11,241.7 v-6.2 M386.11,0.3 v6.2 M62.57,215.50 h6.2 M467.0,215.50 h-6.2 M62.57,189.30 h6.2 M467.0,189.30 h-6.2 M62.57,163.10 h6.2 M467.0,163.10 h-6.2 M62.57,136.90 h6.2 M467.0,136.90 h-6.2 M62.57,110.70 h6.2 M467.0,110.70 h-6.2 M62.57,84.50 h6.2 M467.0,84.50 h-6.2 M62.57,58.30 h6.2 M467.0,58.30 h-6.2 M62.57,32.10 h6.2 M467.0,32.10 h-6.2 M62.57,5.90 h6.2 M467.0,5.90 h-6.2" stroke="#000" stroke-width="1.15" fill="none"/>
<g class="t"><text transform="translate(64.47,260.6) scale(0.97,1)" text-anchor="middle">0</text><text transform="translate(145.36,260.6) scale(0.97,1)" text-anchor="middle">0.5</text><text transform="translate(226.24,260.6) scale(0.97,1)" text-anchor="middle">1</text><text transform="translate(307.13,260.6) scale(0.97,1)" text-anchor="middle">1.5</text><text transform="translate(388.01,260.6) scale(0.97,1)" text-anchor="middle">2</text><text transform="translate(468.90,260.6) scale(0.97,1)" text-anchor="middle">2.5</text><text transform="translate(53.8,247.00) scale(0.97,1)" text-anchor="end">0</text><text transform="translate(53.8,220.05) scale(0.97,1)" text-anchor="end">0.5</text><text transform="translate(53.8,193.85) scale(0.97,1)" text-anchor="end">1</text><text transform="translate(53.8,167.65) scale(0.97,1)" text-anchor="end">1.5</text><text transform="translate(53.8,141.45) scale(0.97,1)" text-anchor="end">2</text><text transform="translate(53.8,115.25) scale(0.97,1)" text-anchor="end">2.5</text><text transform="translate(53.8,89.05) scale(0.97,1)" text-anchor="end">3</text><text transform="translate(53.8,62.85) scale(0.97,1)" text-anchor="end">3.5</text><text transform="translate(53.8,36.65) scale(0.97,1)" text-anchor="end">4</text><text transform="translate(53.8,11.20) scale(0.97,1)" text-anchor="end">4.5</text></g><text x="227.6" y="280.7">frequency</text><text x="292.6" y="280.7" style="font-size:13.1px">ω</text><text transform="translate(10.7,139.9) rotate(-90)">S(k,<tspan style="font-size:12.4px">ω</tspan>)</text>
</svg>
</body></html>
